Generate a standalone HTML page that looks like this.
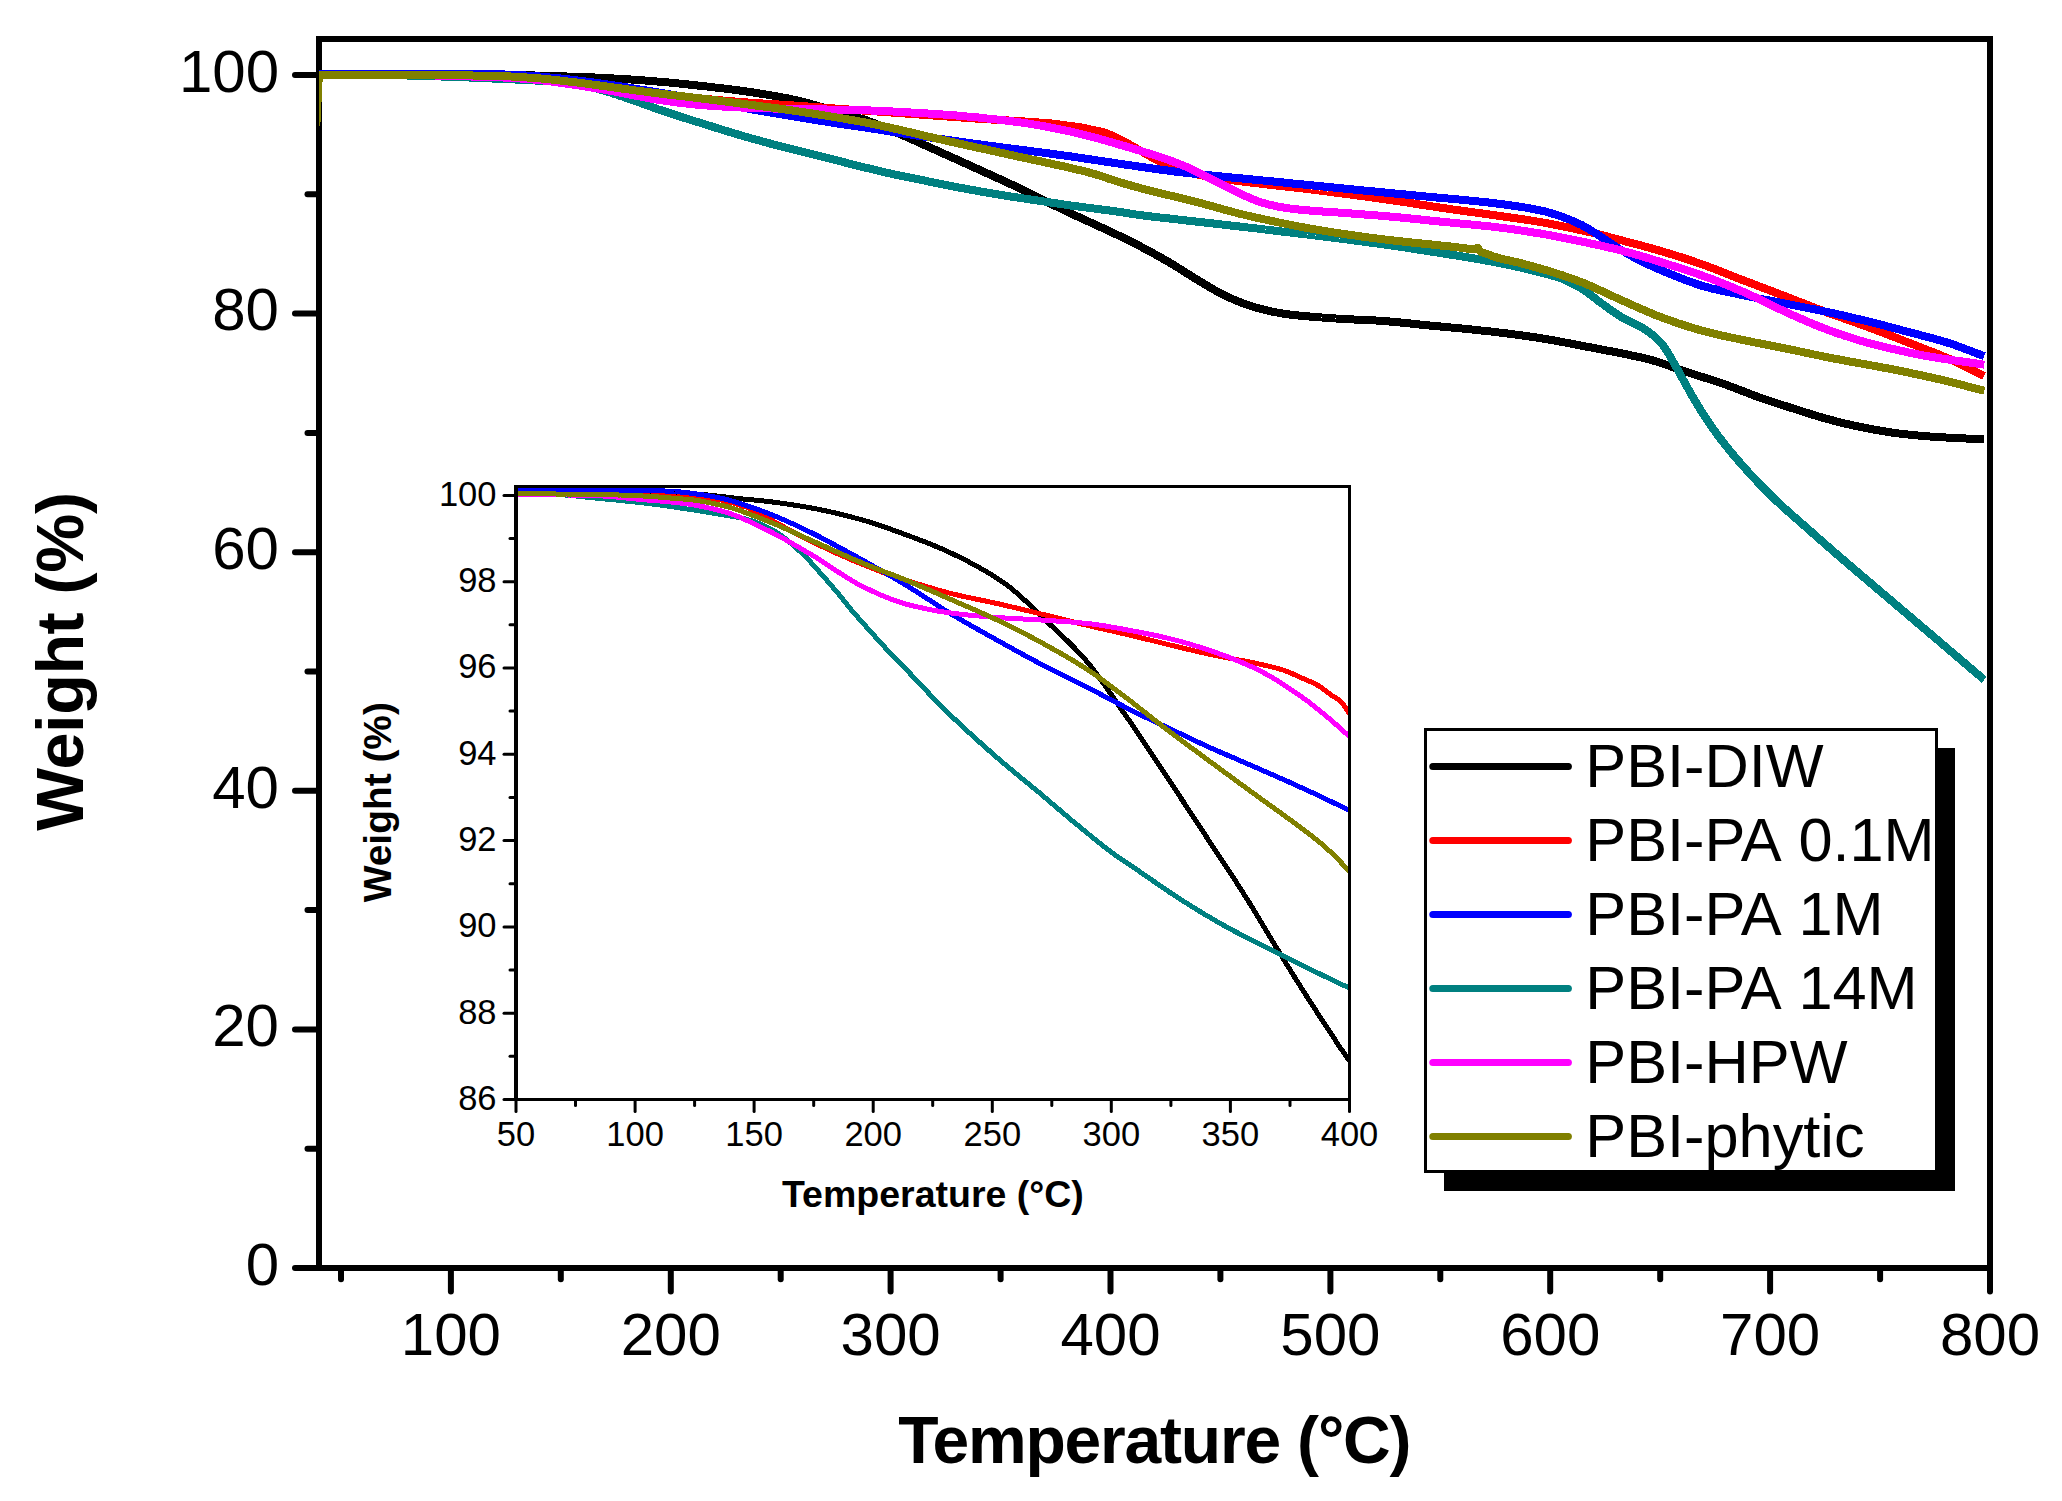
<!DOCTYPE html>
<html lang="en"><head><meta charset="utf-8"><title>TGA curves</title>
<style>html,body{margin:0;padding:0;background:#fff}body{width:2062px;height:1501px;overflow:hidden}</style></head>
<body>
<svg width="2062" height="1501" viewBox="0 0 2062 1501" style="display:block" font-family="'Liberation Sans', sans-serif">
<rect width="2062" height="1501" fill="#fff"/>
<defs><clipPath id="ci"><rect x="516" y="486" width="834" height="614"/></clipPath><clipPath id="cm"><rect x="319" y="36" width="1674" height="1235"/></clipPath></defs>
<g stroke="#000" stroke-width="6" fill="none" shape-rendering="crispEdges">
<rect x="319.0" y="39.0" width="1671.0" height="1229.0"/>
</g>
<g stroke="#000" stroke-width="6" stroke-linecap="round" fill="none">
<line x1="318.0" y1="1268.0" x2="295" y2="1268.0"/>
<line x1="318.0" y1="1148.7" x2="307.5" y2="1148.7"/>
<line x1="318.0" y1="1029.4" x2="295" y2="1029.4"/>
<line x1="318.0" y1="910.1" x2="307.5" y2="910.1"/>
<line x1="318.0" y1="790.8" x2="295" y2="790.8"/>
<line x1="318.0" y1="671.5" x2="307.5" y2="671.5"/>
<line x1="318.0" y1="552.2" x2="295" y2="552.2"/>
<line x1="318.0" y1="432.9" x2="307.5" y2="432.9"/>
<line x1="318.0" y1="313.6" x2="295" y2="313.6"/>
<line x1="318.0" y1="194.3" x2="307.5" y2="194.3"/>
<line x1="318.0" y1="75.0" x2="295" y2="75.0"/>
<line x1="341.0" y1="1269.0" x2="341.0" y2="1279.3"/>
<line x1="450.9" y1="1269.0" x2="450.9" y2="1291.5"/>
<line x1="560.8" y1="1269.0" x2="560.8" y2="1279.3"/>
<line x1="670.8" y1="1269.0" x2="670.8" y2="1291.5"/>
<line x1="780.7" y1="1269.0" x2="780.7" y2="1279.3"/>
<line x1="890.6" y1="1269.0" x2="890.6" y2="1291.5"/>
<line x1="1000.6" y1="1269.0" x2="1000.6" y2="1279.3"/>
<line x1="1110.5" y1="1269.0" x2="1110.5" y2="1291.5"/>
<line x1="1220.4" y1="1269.0" x2="1220.4" y2="1279.3"/>
<line x1="1330.4" y1="1269.0" x2="1330.4" y2="1291.5"/>
<line x1="1440.3" y1="1269.0" x2="1440.3" y2="1279.3"/>
<line x1="1550.2" y1="1269.0" x2="1550.2" y2="1291.5"/>
<line x1="1660.2" y1="1269.0" x2="1660.2" y2="1279.3"/>
<line x1="1770.1" y1="1269.0" x2="1770.1" y2="1291.5"/>
<line x1="1880.1" y1="1269.0" x2="1880.1" y2="1279.3"/>
<line x1="1990.0" y1="1269.0" x2="1990.0" y2="1291.5"/>
</g>
<g font-size="60" fill="#000">
<text x="279" y="1284.8" text-anchor="end">0</text>
<text x="279" y="1046.2" text-anchor="end">20</text>
<text x="279" y="807.6" text-anchor="end">40</text>
<text x="279" y="569.0" text-anchor="end">60</text>
<text x="279" y="330.4" text-anchor="end">80</text>
<text x="279" y="91.8" text-anchor="end">100</text>
<text x="450.9" y="1355.3" text-anchor="middle">100</text>
<text x="670.8" y="1355.3" text-anchor="middle">200</text>
<text x="890.6" y="1355.3" text-anchor="middle">300</text>
<text x="1110.5" y="1355.3" text-anchor="middle">400</text>
<text x="1330.4" y="1355.3" text-anchor="middle">500</text>
<text x="1550.2" y="1355.3" text-anchor="middle">600</text>
<text x="1770.1" y="1355.3" text-anchor="middle">700</text>
<text x="1990.0" y="1355.3" text-anchor="middle">800</text>
</g>
<text x="1154.3" y="1462.8" text-anchor="middle" font-size="66" font-weight="bold" letter-spacing="-1.2">Temperature (°C)</text>
<text transform="translate(82.8,661.5) rotate(-90)" text-anchor="middle" font-size="66.5" font-weight="bold" letter-spacing="-0.4">Weight (%)</text>
<g fill="none" stroke-width="8" stroke-linejoin="round" stroke-linecap="butt" clip-path="url(#cm)" shape-rendering="crispEdges">
<path d="M316.5,74.8 L318.5,74.7 L320.5,74.6 L322.5,74.5 L324.5,74.4 L326.5,74.3 L328.5,74.3 L330.5,74.2 L332.5,74.1 L334.5,74.0 L336.5,74.0 L338.5,73.9 L340.5,73.9 L341.2,73.9 L342.5,73.9 L344.5,73.9 L346.5,73.9 L348.5,73.9 L350.5,73.9 L352.5,73.9 L354.5,73.9 L356.5,73.9 L358.5,73.9 L360.5,73.8 L362.5,73.8 L364.5,73.8 L366.6,73.8 L368.6,73.8 L370.6,73.8 L372.6,73.8 L374.6,73.8 L376.6,73.8 L378.6,73.8 L380.6,73.8 L382.6,73.8 L384.6,73.8 L386.6,73.8 L388.6,73.8 L390.6,73.8 L392.6,73.8 L394.6,73.8 L396.6,73.8 L398.6,73.8 L400.6,73.8 L402.6,73.8 L404.6,73.8 L406.5,73.8 L406.6,73.8 L408.6,73.8 L410.6,73.8 L412.6,73.8 L414.6,73.8 L416.6,73.8 L418.6,73.8 L420.6,73.8 L422.6,73.8 L424.6,73.8 L426.6,73.8 L428.6,73.8 L430.6,73.8 L432.6,73.8 L434.6,73.8 L436.6,73.8 L438.6,73.8 L440.6,73.8 L442.6,73.9 L444.6,73.9 L446.6,73.9 L448.6,73.9 L450.6,73.9 L452.6,73.9 L454.6,73.9 L456.6,73.9 L458.6,73.9 L460.5,73.9 L460.6,73.9 L462.6,73.9 L464.7,73.9 L466.7,74.0 L468.7,74.0 L470.7,74.0 L472.7,74.0 L474.7,74.0 L476.7,74.1 L478.7,74.1 L480.7,74.1 L482.7,74.2 L484.7,74.2 L486.7,74.2 L488.7,74.3 L490.7,74.3 L492.7,74.3 L494.7,74.4 L496.7,74.4 L498.7,74.5 L500.7,74.5 L502.7,74.5 L504.7,74.6 L506.7,74.6 L508.7,74.7 L510.7,74.7 L512.7,74.8 L514.3,74.8 L514.7,74.8 L516.7,74.9 L518.7,74.9 L520.7,75.0 L522.7,75.0 L524.7,75.1 L526.7,75.2 L528.7,75.2 L530.7,75.3 L532.7,75.4 L534.7,75.5 L536.7,75.5 L538.7,75.6 L540.7,75.7 L542.7,75.7 L544.7,75.8 L546.7,75.9 L548.7,75.9 L548.8,75.9 L550.7,76.0 L552.7,76.1 L554.7,76.1 L556.7,76.2 L558.7,76.2 L560.7,76.3 L562.8,76.3 L564.8,76.4 L566.8,76.5 L568.8,76.5 L570.8,76.6 L572.8,76.7 L573.0,76.7 L574.8,76.7 L576.8,76.8 L578.8,76.9 L580.8,76.9 L582.8,77.0 L584.8,77.1 L586.8,77.2 L588.8,77.3 L590.8,77.4 L592.8,77.4 L594.8,77.5 L596.8,77.6 L598.8,77.7 L600.8,77.8 L602.8,77.9 L604.8,78.0 L606.8,78.1 L608.8,78.2 L610.8,78.3 L612.8,78.4 L613.2,78.5 L614.8,78.5 L616.8,78.7 L618.8,78.8 L620.8,78.9 L622.8,79.0 L624.8,79.1 L626.8,79.3 L628.8,79.4 L630.8,79.5 L632.8,79.7 L634.8,79.8 L636.8,79.9 L638.8,80.1 L640.8,80.2 L642.8,80.4 L644.8,80.5 L646.8,80.7 L648.8,80.8 L650.8,81.0 L652.8,81.1 L654.8,81.3 L656.8,81.5 L658.6,81.6 L658.8,81.6 L660.9,81.8 L662.9,82.0 L664.9,82.2 L666.9,82.3 L668.9,82.5 L670.9,82.7 L672.9,82.9 L674.9,83.1 L676.9,83.3 L678.9,83.5 L680.9,83.7 L682.9,83.9 L684.9,84.1 L686.9,84.3 L688.9,84.6 L690.9,84.8 L692.9,85.0 L694.9,85.2 L696.9,85.4 L698.9,85.7 L700.9,85.9 L702.2,86.0 L702.9,86.1 L704.9,86.3 L706.9,86.5 L708.9,86.8 L710.9,87.0 L712.9,87.2 L714.9,87.5 L716.9,87.7 L718.9,87.9 L720.9,88.2 L722.9,88.4 L724.9,88.6 L726.9,88.9 L728.9,89.1 L730.9,89.4 L732.9,89.6 L734.9,89.9 L736.9,90.2 L738.9,90.4 L740.9,90.7 L742.5,90.9 L742.9,91.0 L744.9,91.3 L746.9,91.6 L748.9,91.8 L750.9,92.1 L752.9,92.4 L754.9,92.7 L756.9,93.1 L759.0,93.4 L761.0,93.7 L763.0,94.0 L765.0,94.3 L767.0,94.7 L769.0,95.0 L771.0,95.3 L773.0,95.7 L775.0,96.0 L777.0,96.4 L779.0,96.8 L781.0,97.1 L783.0,97.5 L785.0,97.9 L787.0,98.3 L787.8,98.4 L789.0,98.7 L791.0,99.1 L793.0,99.5 L795.0,100.0 L797.0,100.4 L799.0,100.9 L799.9,101.2 L801.0,101.4 L803.0,101.9 L805.0,102.4 L807.0,103.0 L809.0,103.5 L811.0,104.1 L813.0,104.6 L815.0,105.2 L817.0,105.8 L819.0,106.4 L821.0,107.0 L823.0,107.5 L825.0,108.1 L827.0,108.7 L828.1,109.0 L829.0,109.3 L831.0,109.8 L833.0,110.4 L835.0,111.0 L837.0,111.5 L839.0,112.1 L841.0,112.7 L843.0,113.2 L845.0,113.8 L847.0,114.4 L849.0,114.9 L851.0,115.5 L853.0,116.1 L855.0,116.7 L857.1,117.3 L859.1,118.0 L861.1,118.6 L863.1,119.2 L865.1,119.9 L867.1,120.6 L868.4,121.1 L869.1,121.3 L871.1,122.0 L873.1,122.8 L875.1,123.6 L877.1,124.4 L879.1,125.2 L881.1,126.0 L883.1,126.9 L885.1,127.7 L887.1,128.6 L888.6,129.2 L889.1,129.4 L891.1,130.3 L893.1,131.2 L895.1,132.1 L897.1,133.0 L898.6,133.6 L899.1,133.8 L901.1,134.7 L903.1,135.5 L905.1,136.4 L907.1,137.2 L907.1,137.2 L909.1,138.1 L911.1,139.0 L913.1,139.9 L915.1,140.8 L917.1,141.6 L919.1,142.5 L921.1,143.4 L923.1,144.4 L925.1,145.3 L927.1,146.2 L929.1,147.1 L930.0,147.5 L931.1,148.0 L933.1,148.9 L935.1,149.8 L937.1,150.7 L939.1,151.6 L941.1,152.5 L943.1,153.4 L945.1,154.3 L947.1,155.2 L949.1,156.1 L951.1,157.0 L953.1,157.9 L955.2,158.8 L957.2,159.7 L959.2,160.6 L961.2,161.5 L963.2,162.5 L965.2,163.4 L967.2,164.3 L968.8,165.0 L969.2,165.2 L971.2,166.1 L973.2,167.0 L975.2,167.9 L977.2,168.8 L979.2,169.7 L981.2,170.6 L983.2,171.5 L985.2,172.4 L987.2,173.4 L989.2,174.3 L991.2,175.2 L993.2,176.1 L995.2,177.0 L997.2,177.9 L999.2,178.8 L1001.2,179.7 L1003.2,180.7 L1005.2,181.6 L1007.2,182.5 L1009.2,183.5 L1011.2,184.4 L1013.2,185.3 L1015.2,186.3 L1016.4,186.9 L1017.2,187.2 L1019.2,188.2 L1021.2,189.2 L1023.2,190.2 L1025.2,191.1 L1027.2,192.1 L1029.2,193.1 L1031.2,194.1 L1033.2,195.1 L1035.2,196.1 L1037.2,197.1 L1039.2,198.1 L1041.2,199.1 L1043.2,200.1 L1045.2,201.1 L1046.9,201.9 L1047.2,202.1 L1049.2,203.0 L1051.2,204.0 L1053.3,205.0 L1055.3,206.0 L1057.3,206.9 L1059.3,207.9 L1061.3,208.8 L1063.3,209.8 L1065.3,210.8 L1067.3,211.7 L1069.3,212.7 L1070.3,213.1 L1071.3,213.6 L1073.3,214.5 L1075.3,215.5 L1077.3,216.4 L1079.3,217.3 L1081.3,218.3 L1083.3,219.2 L1085.3,220.1 L1087.3,221.0 L1089.3,221.9 L1091.3,222.8 L1093.3,223.8 L1095.3,224.7 L1097.3,225.6 L1099.3,226.5 L1101.3,227.4 L1103.3,228.3 L1105.3,229.3 L1107.3,230.2 L1109.3,231.1 L1111.3,232.1 L1113.3,233.0 L1115.3,234.0 L1117.3,234.9 L1119.3,235.9 L1120.0,236.2 L1121.3,236.8 L1123.3,237.8 L1125.3,238.8 L1127.3,239.8 L1129.3,240.8 L1131.3,241.8 L1133.3,242.8 L1135.3,243.8 L1137.3,244.8 L1139.3,245.9 L1140.0,246.2 L1141.3,246.9 L1143.3,248.0 L1145.3,249.0 L1147.3,250.1 L1149.3,251.2 L1151.4,252.3 L1153.4,253.4 L1155.4,254.5 L1157.4,255.6 L1159.4,256.7 L1161.4,257.8 L1163.4,259.0 L1165.4,260.1 L1167.4,261.3 L1169.1,262.3 L1169.4,262.5 L1171.4,263.6 L1173.4,264.9 L1175.4,266.1 L1177.4,267.3 L1179.4,268.6 L1181.4,269.9 L1183.4,271.1 L1185.4,272.4 L1187.4,273.7 L1189.4,274.9 L1191.4,276.2 L1193.4,277.4 L1195.4,278.7 L1197.4,279.9 L1198.3,280.4 L1199.4,281.0 L1201.4,282.2 L1203.4,283.4 L1205.4,284.6 L1207.4,285.8 L1209.4,287.0 L1211.4,288.2 L1213.4,289.4 L1215.4,290.5 L1217.4,291.6 L1219.4,292.7 L1221.4,293.8 L1223.4,294.8 L1225.4,295.8 L1227.4,296.7 L1227.4,296.7 L1229.4,297.6 L1231.4,298.5 L1233.4,299.4 L1235.4,300.2 L1237.4,301.1 L1239.4,301.9 L1241.4,302.7 L1243.4,303.5 L1245.4,304.2 L1247.4,304.9 L1249.5,305.6 L1251.5,306.3 L1253.5,306.9 L1255.5,307.5 L1256.6,307.8 L1257.5,308.0 L1259.5,308.6 L1261.5,309.1 L1263.5,309.6 L1265.5,310.1 L1267.5,310.6 L1269.5,311.0 L1271.5,311.4 L1273.5,311.9 L1275.5,312.3 L1277.5,312.6 L1279.5,313.0 L1281.5,313.3 L1283.3,313.6 L1283.5,313.6 L1285.5,313.9 L1287.5,314.2 L1289.5,314.5 L1291.5,314.7 L1293.5,314.9 L1295.5,315.2 L1297.5,315.4 L1299.5,315.6 L1301.5,315.8 L1303.5,316.0 L1303.7,316.0 L1305.5,316.2 L1307.5,316.3 L1309.5,316.5 L1311.5,316.7 L1313.5,316.9 L1315.5,317.0 L1317.5,317.2 L1319.5,317.3 L1321.5,317.5 L1323.5,317.6 L1325.5,317.8 L1327.5,317.9 L1329.5,318.1 L1331.5,318.2 L1333.5,318.3 L1335.5,318.5 L1337.5,318.6 L1339.5,318.7 L1341.5,318.8 L1343.5,318.9 L1344.4,319.0 L1345.5,319.1 L1347.6,319.2 L1349.6,319.3 L1351.6,319.4 L1353.6,319.5 L1355.6,319.6 L1357.6,319.7 L1359.6,319.8 L1361.6,319.8 L1363.6,319.9 L1365.6,320.0 L1367.6,320.1 L1369.6,320.2 L1371.6,320.3 L1373.6,320.4 L1375.6,320.5 L1377.6,320.6 L1379.6,320.8 L1380.0,320.8 L1381.6,320.9 L1383.6,321.0 L1385.6,321.2 L1387.6,321.4 L1389.6,321.5 L1391.6,321.7 L1393.6,321.9 L1395.6,322.1 L1397.6,322.2 L1399.6,322.4 L1401.6,322.6 L1403.6,322.8 L1405.6,323.0 L1407.6,323.2 L1409.6,323.4 L1411.6,323.7 L1413.6,323.9 L1415.6,324.1 L1417.6,324.3 L1419.6,324.5 L1421.6,324.7 L1423.6,324.9 L1425.6,325.1 L1425.9,325.1 L1427.6,325.3 L1429.6,325.5 L1431.6,325.7 L1433.6,325.8 L1435.6,326.0 L1437.6,326.2 L1439.6,326.4 L1441.6,326.6 L1443.6,326.8 L1445.7,327.0 L1447.7,327.2 L1449.7,327.4 L1451.7,327.6 L1453.7,327.8 L1455.7,327.9 L1457.7,328.1 L1459.7,328.3 L1461.7,328.5 L1463.7,328.7 L1465.7,328.9 L1467.7,329.1 L1469.7,329.3 L1471.7,329.5 L1473.7,329.7 L1475.7,329.9 L1477.7,330.1 L1479.7,330.3 L1481.7,330.6 L1483.7,330.8 L1485.7,331.0 L1487.7,331.2 L1489.7,331.4 L1491.7,331.6 L1493.7,331.9 L1495.7,332.1 L1497.7,332.3 L1499.7,332.6 L1500.0,332.6 L1501.7,332.8 L1503.7,333.0 L1505.7,333.3 L1507.7,333.5 L1509.7,333.8 L1511.7,334.1 L1513.7,334.3 L1515.7,334.6 L1517.7,334.8 L1519.7,335.1 L1521.7,335.4 L1523.7,335.7 L1525.7,336.0 L1527.7,336.2 L1529.7,336.5 L1531.7,336.8 L1533.7,337.1 L1535.7,337.4 L1537.7,337.7 L1539.7,338.1 L1540.7,338.2 L1541.7,338.4 L1543.8,338.7 L1545.8,339.0 L1547.8,339.4 L1549.8,339.7 L1551.8,340.0 L1553.8,340.4 L1555.8,340.8 L1557.8,341.1 L1559.8,341.5 L1561.8,341.9 L1563.8,342.3 L1565.8,342.6 L1567.8,343.0 L1569.8,343.4 L1571.8,343.8 L1573.8,344.2 L1575.8,344.6 L1577.8,345.0 L1579.8,345.3 L1581.8,345.7 L1583.8,346.1 L1585.8,346.5 L1587.8,346.9 L1589.8,347.3 L1590.0,347.3 L1591.8,347.6 L1593.8,348.0 L1595.8,348.4 L1597.8,348.8 L1599.8,349.1 L1601.8,349.5 L1603.8,349.9 L1605.8,350.3 L1607.8,350.7 L1609.8,351.0 L1611.8,351.4 L1613.8,351.8 L1615.8,352.2 L1617.8,352.6 L1619.8,353.0 L1621.8,353.4 L1622.2,353.5 L1623.8,353.8 L1625.8,354.2 L1627.8,354.6 L1629.8,355.1 L1631.8,355.5 L1633.8,355.9 L1635.8,356.3 L1637.8,356.7 L1639.8,357.2 L1641.9,357.6 L1643.9,358.1 L1645.9,358.6 L1647.9,359.1 L1648.3,359.2 L1649.9,359.6 L1651.9,360.2 L1653.9,360.8 L1655.9,361.4 L1657.9,362.0 L1659.9,362.6 L1661.9,363.3 L1663.9,364.0 L1665.9,364.7 L1667.9,365.4 L1669.9,366.1 L1671.9,366.8 L1673.9,367.5 L1675.9,368.2 L1677.9,368.9 L1679.9,369.6 L1681.9,370.3 L1683.9,371.0 L1685.9,371.7 L1687.9,372.4 L1689.9,373.1 L1690.0,373.1 L1691.9,373.7 L1693.9,374.4 L1695.9,375.0 L1697.9,375.6 L1699.9,376.2 L1701.9,376.9 L1703.9,377.5 L1705.9,378.1 L1707.9,378.7 L1709.9,379.4 L1711.9,380.0 L1713.9,380.6 L1715.9,381.3 L1717.9,381.9 L1719.9,382.6 L1721.9,383.3 L1723.9,384.0 L1724.0,384.0 L1725.9,384.7 L1727.9,385.4 L1729.9,386.2 L1731.9,386.9 L1733.9,387.7 L1735.9,388.4 L1737.9,389.2 L1740.0,390.0 L1742.0,390.8 L1744.0,391.5 L1744.4,391.7 L1746.0,392.3 L1748.0,393.1 L1750.0,393.9 L1752.0,394.6 L1754.0,395.4 L1756.0,396.2 L1758.0,396.9 L1758.0,396.9 L1760.0,397.6 L1762.0,398.3 L1764.0,399.0 L1766.0,399.7 L1768.0,400.4 L1770.0,401.0 L1772.0,401.7 L1774.0,402.3 L1776.0,403.0 L1778.0,403.6 L1780.0,404.3 L1782.0,404.9 L1784.0,405.6 L1786.0,406.2 L1788.0,406.8 L1790.0,407.5 L1792.0,408.1 L1792.0,408.1 L1794.0,408.7 L1796.0,409.4 L1798.0,410.0 L1800.0,410.7 L1802.0,411.3 L1804.0,411.9 L1806.0,412.6 L1808.0,413.2 L1810.0,413.8 L1812.0,414.5 L1814.0,415.1 L1816.0,415.7 L1818.0,416.3 L1820.0,416.9 L1822.0,417.5 L1824.0,418.1 L1826.0,418.6 L1828.0,419.2 L1830.0,419.7 L1830.0,419.7 L1832.0,420.2 L1834.0,420.8 L1836.0,421.3 L1838.1,421.8 L1840.1,422.3 L1842.1,422.8 L1844.1,423.3 L1846.1,423.8 L1848.1,424.2 L1850.1,424.7 L1852.1,425.1 L1854.1,425.6 L1856.1,426.0 L1858.1,426.5 L1860.1,426.9 L1862.1,427.3 L1863.7,427.6 L1864.1,427.7 L1866.1,428.1 L1868.1,428.4 L1870.1,428.8 L1872.1,429.2 L1874.1,429.6 L1876.1,429.9 L1878.1,430.3 L1880.1,430.7 L1882.1,431.0 L1884.1,431.3 L1886.1,431.7 L1888.1,432.0 L1890.1,432.3 L1892.1,432.6 L1894.1,432.8 L1896.1,433.1 L1897.7,433.3 L1898.1,433.4 L1900.1,433.6 L1902.1,433.8 L1904.1,434.1 L1906.1,434.3 L1908.1,434.5 L1910.1,434.7 L1912.1,434.9 L1914.1,435.1 L1916.1,435.3 L1918.1,435.5 L1920.1,435.7 L1922.1,435.9 L1924.1,436.0 L1926.1,436.2 L1928.1,436.3 L1930.1,436.5 L1931.6,436.6 L1932.1,436.6 L1934.1,436.8 L1936.2,436.9 L1938.2,437.0 L1940.2,437.1 L1942.2,437.3 L1944.2,437.4 L1946.2,437.5 L1948.2,437.6 L1950.2,437.7 L1952.2,437.8 L1954.2,437.9 L1956.2,438.0 L1958.2,438.1 L1960.2,438.2 L1962.2,438.3 L1964.2,438.4 L1966.2,438.5 L1968.2,438.6 L1970.2,438.7 L1972.2,438.8 L1974.2,438.9 L1976.2,439.0 L1978.2,439.1 L1980.2,439.2 L1981.0,439.2 L1982.2,439.3 L1984.2,439.4" stroke="#000000"/>
<path d="M316.5,74.8 L318.5,74.8 L320.5,74.7 L322.5,74.6 L324.5,74.6 L326.5,74.5 L328.5,74.5 L330.5,74.5 L332.5,74.4 L334.5,74.4 L336.5,74.4 L338.5,74.3 L340.5,74.3 L341.2,74.3 L342.5,74.3 L344.5,74.3 L346.5,74.3 L348.5,74.3 L350.5,74.3 L352.5,74.3 L354.5,74.3 L356.5,74.3 L358.5,74.3 L360.5,74.3 L362.5,74.3 L364.5,74.3 L366.6,74.3 L368.6,74.3 L370.6,74.3 L372.6,74.3 L374.6,74.3 L376.6,74.3 L378.6,74.3 L380.6,74.3 L382.6,74.3 L384.6,74.3 L386.6,74.3 L388.6,74.3 L390.6,74.3 L392.6,74.3 L394.6,74.3 L396.6,74.3 L398.6,74.3 L400.6,74.3 L402.6,74.3 L404.6,74.3 L406.5,74.3 L406.6,74.3 L408.6,74.3 L410.6,74.3 L412.6,74.3 L414.6,74.3 L416.6,74.3 L418.6,74.3 L420.6,74.3 L422.6,74.4 L424.6,74.4 L426.6,74.4 L428.6,74.4 L430.6,74.4 L432.6,74.4 L434.6,74.4 L436.6,74.4 L438.6,74.4 L440.6,74.4 L442.6,74.4 L444.6,74.4 L446.6,74.4 L448.6,74.4 L450.6,74.4 L452.6,74.4 L454.6,74.4 L456.6,74.5 L458.6,74.5 L460.5,74.5 L460.6,74.5 L462.6,74.5 L464.7,74.5 L466.7,74.5 L468.7,74.5 L470.7,74.5 L472.7,74.6 L474.7,74.6 L476.7,74.6 L478.7,74.6 L480.7,74.6 L482.7,74.7 L484.7,74.7 L486.7,74.7 L488.7,74.7 L490.7,74.8 L492.7,74.8 L494.7,74.8 L496.7,74.9 L498.7,74.9 L500.7,74.9 L501.6,74.9 L502.7,75.0 L504.7,75.0 L506.7,75.1 L508.7,75.2 L510.7,75.2 L512.7,75.3 L514.3,75.4 L514.7,75.4 L516.7,75.5 L518.7,75.6 L520.7,75.7 L522.7,75.8 L524.7,75.9 L526.7,76.0 L528.7,76.2 L530.7,76.3 L532.7,76.4 L534.7,76.6 L536.7,76.7 L538.7,76.9 L540.7,77.1 L542.7,77.2 L544.7,77.4 L546.7,77.6 L548.7,77.8 L550.7,78.0 L552.7,78.2 L554.5,78.3 L554.7,78.4 L556.7,78.6 L558.7,78.9 L560.7,79.2 L562.8,79.5 L564.8,79.8 L566.8,80.2 L568.8,80.5 L570.8,80.9 L572.8,81.2 L573.0,81.2 L574.8,81.5 L576.8,81.9 L578.8,82.2 L580.8,82.5 L582.8,82.8 L584.8,83.2 L586.8,83.5 L588.8,83.8 L590.8,84.1 L592.8,84.5 L594.8,84.8 L596.8,85.1 L598.8,85.4 L600.8,85.8 L602.8,86.1 L604.8,86.4 L606.8,86.7 L608.8,87.0 L610.8,87.3 L612.8,87.6 L613.2,87.7 L614.8,87.9 L616.8,88.2 L618.8,88.5 L620.8,88.8 L622.8,89.0 L624.8,89.3 L626.8,89.6 L628.8,89.9 L630.8,90.2 L632.8,90.4 L634.8,90.7 L636.8,91.0 L638.8,91.2 L640.8,91.5 L642.8,91.8 L644.8,92.0 L646.8,92.3 L648.8,92.6 L650.8,92.8 L652.8,93.1 L654.8,93.3 L656.8,93.6 L658.8,93.8 L660.9,94.1 L661.9,94.2 L662.9,94.3 L664.9,94.5 L666.9,94.8 L668.9,95.0 L670.9,95.3 L672.9,95.5 L674.9,95.7 L676.9,95.9 L678.9,96.2 L680.9,96.4 L682.9,96.6 L684.9,96.8 L686.9,97.0 L688.9,97.3 L690.9,97.5 L692.9,97.7 L694.9,97.9 L695.5,97.9 L696.9,98.1 L698.9,98.3 L700.9,98.5 L702.9,98.7 L704.9,98.9 L706.9,99.0 L708.9,99.2 L710.9,99.4 L712.9,99.6 L714.9,99.8 L716.9,100.0 L718.3,100.1 L718.9,100.1 L720.9,100.3 L722.9,100.5 L724.9,100.7 L726.9,100.8 L728.9,101.0 L730.9,101.2 L732.9,101.4 L734.9,101.5 L736.9,101.7 L738.9,101.8 L740.9,102.0 L742.5,102.1 L742.9,102.2 L744.9,102.3 L746.9,102.4 L748.9,102.6 L750.9,102.7 L752.9,102.9 L754.9,103.0 L756.9,103.1 L759.0,103.2 L761.0,103.4 L763.0,103.5 L765.0,103.6 L767.0,103.7 L769.0,103.9 L771.0,104.0 L773.0,104.1 L775.0,104.2 L777.0,104.4 L779.0,104.5 L781.0,104.6 L783.0,104.8 L785.0,104.9 L787.0,105.0 L787.8,105.1 L789.0,105.2 L791.0,105.3 L793.0,105.4 L795.0,105.6 L797.0,105.7 L799.0,105.9 L801.0,106.0 L803.0,106.1 L805.0,106.3 L807.0,106.4 L809.0,106.6 L811.0,106.7 L813.0,106.9 L815.0,107.0 L817.0,107.2 L819.0,107.3 L821.0,107.4 L823.0,107.6 L825.0,107.7 L827.0,107.9 L828.1,108.0 L829.0,108.0 L831.0,108.2 L833.0,108.3 L835.0,108.5 L837.0,108.6 L839.0,108.8 L841.0,108.9 L843.0,109.1 L845.0,109.2 L847.0,109.4 L849.0,109.5 L851.0,109.7 L853.0,109.8 L855.0,110.0 L857.1,110.1 L859.1,110.3 L861.1,110.4 L863.1,110.6 L865.1,110.7 L867.1,110.8 L868.4,110.9 L869.1,111.0 L871.1,111.1 L873.1,111.3 L875.1,111.4 L877.1,111.5 L879.1,111.7 L881.1,111.8 L883.1,112.0 L885.1,112.1 L887.1,112.2 L889.1,112.4 L891.1,112.5 L893.1,112.6 L895.1,112.8 L897.1,112.9 L899.1,113.0 L901.1,113.2 L903.1,113.3 L905.1,113.5 L907.1,113.6 L908.7,113.7 L909.1,113.7 L911.1,113.9 L913.1,114.0 L915.1,114.2 L917.1,114.3 L919.1,114.5 L921.1,114.6 L923.1,114.8 L925.1,114.9 L927.1,115.1 L929.1,115.2 L931.1,115.4 L933.1,115.5 L935.1,115.7 L937.1,115.8 L939.1,116.0 L941.1,116.1 L943.1,116.2 L944.8,116.4 L945.1,116.4 L947.1,116.5 L949.1,116.7 L951.1,116.8 L953.1,117.0 L955.2,117.1 L957.2,117.2 L959.2,117.4 L961.2,117.5 L963.2,117.7 L965.2,117.8 L967.2,118.0 L969.2,118.1 L971.2,118.2 L973.2,118.4 L975.2,118.5 L977.2,118.6 L979.2,118.8 L981.2,118.9 L983.2,119.0 L985.0,119.2 L985.2,119.2 L987.2,119.3 L989.2,119.4 L991.2,119.5 L993.2,119.6 L995.2,119.8 L997.2,119.9 L999.2,120.0 L1001.2,120.1 L1003.2,120.2 L1005.2,120.3 L1007.2,120.4 L1009.2,120.5 L1011.2,120.6 L1013.2,120.8 L1015.2,120.9 L1017.2,121.0 L1019.2,121.1 L1021.2,121.2 L1023.2,121.4 L1025.2,121.5 L1025.4,121.5 L1027.2,121.6 L1029.2,121.8 L1031.2,121.9 L1033.2,122.0 L1035.2,122.2 L1037.2,122.3 L1039.2,122.5 L1041.2,122.6 L1043.2,122.8 L1045.2,122.9 L1047.2,123.1 L1049.2,123.3 L1049.6,123.3 L1051.2,123.5 L1053.3,123.7 L1055.3,124.0 L1057.3,124.2 L1059.3,124.5 L1061.3,124.8 L1063.3,125.1 L1065.3,125.3 L1065.6,125.4 L1067.3,125.6 L1069.3,125.8 L1071.3,126.1 L1073.3,126.4 L1075.3,126.6 L1077.3,126.9 L1079.3,127.2 L1081.3,127.5 L1081.8,127.6 L1083.3,127.9 L1085.3,128.3 L1087.3,128.7 L1089.3,129.2 L1091.3,129.7 L1093.3,130.1 L1093.9,130.2 L1095.3,130.5 L1097.3,130.9 L1099.3,131.3 L1101.3,131.7 L1101.9,131.9 L1103.3,132.3 L1105.3,132.9 L1107.3,133.6 L1109.3,134.4 L1111.3,135.3 L1113.3,136.2 L1115.3,137.2 L1117.3,138.1 L1119.3,139.1 L1120.0,139.4 L1121.3,140.0 L1123.3,141.1 L1125.3,142.1 L1127.3,143.2 L1129.3,144.4 L1131.3,145.5 L1133.3,146.7 L1135.3,147.8 L1137.3,149.0 L1139.3,150.1 L1140.7,150.9 L1141.3,151.3 L1143.3,152.4 L1145.3,153.6 L1147.3,154.7 L1149.3,155.9 L1151.4,157.1 L1153.4,158.2 L1155.4,159.3 L1157.4,160.4 L1159.4,161.3 L1161.1,162.1 L1161.4,162.2 L1163.4,163.0 L1165.4,163.9 L1167.4,164.7 L1169.4,165.5 L1171.4,166.2 L1173.4,167.0 L1175.4,167.7 L1177.4,168.4 L1179.4,169.1 L1181.4,169.8 L1183.4,170.5 L1185.4,171.1 L1187.4,171.7 L1189.4,172.3 L1191.4,172.9 L1193.4,173.4 L1195.4,173.9 L1197.4,174.4 L1199.4,174.9 L1201.4,175.3 L1201.8,175.4 L1203.4,175.7 L1205.4,176.1 L1207.4,176.5 L1209.4,176.8 L1211.4,177.2 L1213.4,177.5 L1215.4,177.8 L1217.4,178.1 L1219.4,178.4 L1221.4,178.7 L1223.4,179.0 L1225.4,179.3 L1227.4,179.5 L1229.4,179.8 L1231.4,180.1 L1233.4,180.3 L1235.4,180.6 L1237.4,180.8 L1239.4,181.1 L1241.4,181.3 L1242.6,181.5 L1243.4,181.6 L1245.4,181.9 L1247.4,182.1 L1249.5,182.4 L1251.5,182.6 L1253.5,182.9 L1255.5,183.1 L1257.5,183.3 L1259.5,183.6 L1261.5,183.8 L1263.5,184.0 L1265.5,184.3 L1267.5,184.5 L1269.5,184.7 L1271.5,184.9 L1273.5,185.2 L1275.5,185.4 L1277.5,185.6 L1279.5,185.8 L1281.5,186.0 L1283.5,186.3 L1285.5,186.5 L1287.5,186.7 L1289.5,186.9 L1291.5,187.2 L1293.5,187.4 L1295.5,187.6 L1297.5,187.9 L1299.5,188.1 L1301.5,188.3 L1303.5,188.6 L1303.7,188.6 L1305.5,188.8 L1307.5,189.1 L1309.5,189.3 L1311.5,189.6 L1313.5,189.8 L1315.5,190.1 L1317.5,190.3 L1319.5,190.6 L1321.5,190.8 L1323.5,191.1 L1325.5,191.3 L1327.5,191.6 L1329.5,191.8 L1331.5,192.1 L1333.5,192.4 L1335.5,192.6 L1337.5,192.9 L1339.5,193.1 L1341.5,193.4 L1343.5,193.7 L1345.5,193.9 L1347.6,194.2 L1349.6,194.4 L1351.6,194.7 L1353.6,195.0 L1355.6,195.2 L1357.6,195.5 L1359.6,195.8 L1361.6,196.0 L1363.6,196.3 L1365.6,196.6 L1367.6,196.9 L1369.6,197.1 L1371.6,197.4 L1373.6,197.7 L1375.6,198.0 L1377.6,198.2 L1379.6,198.5 L1381.6,198.8 L1383.6,199.1 L1385.2,199.3 L1385.6,199.4 L1387.6,199.6 L1389.6,199.9 L1391.6,200.2 L1393.6,200.5 L1395.6,200.8 L1397.6,201.1 L1399.6,201.4 L1401.6,201.7 L1403.6,202.0 L1405.6,202.3 L1407.6,202.6 L1409.6,202.9 L1411.6,203.2 L1413.6,203.5 L1415.6,203.8 L1417.6,204.2 L1419.6,204.5 L1421.6,204.8 L1423.6,205.1 L1425.6,205.4 L1427.6,205.7 L1429.6,206.0 L1431.6,206.3 L1433.6,206.6 L1435.6,206.9 L1437.6,207.2 L1439.6,207.5 L1441.6,207.8 L1443.6,208.1 L1445.7,208.4 L1446.3,208.5 L1447.7,208.7 L1449.7,209.0 L1451.7,209.3 L1453.7,209.6 L1455.7,209.8 L1457.7,210.1 L1459.7,210.4 L1461.7,210.7 L1463.7,210.9 L1465.7,211.2 L1467.7,211.5 L1469.7,211.8 L1471.7,212.0 L1473.7,212.3 L1475.7,212.6 L1477.7,212.9 L1479.7,213.1 L1481.7,213.4 L1483.7,213.7 L1485.7,214.0 L1487.7,214.3 L1489.7,214.5 L1491.7,214.8 L1493.7,215.1 L1495.7,215.4 L1497.7,215.7 L1499.7,216.0 L1500.0,216.0 L1501.7,216.2 L1503.7,216.5 L1505.7,216.8 L1507.7,217.1 L1509.7,217.4 L1511.7,217.7 L1513.7,218.0 L1515.7,218.2 L1517.7,218.5 L1519.7,218.8 L1521.7,219.1 L1523.7,219.4 L1525.7,219.7 L1527.7,220.0 L1529.7,220.3 L1531.7,220.6 L1533.7,220.9 L1535.7,221.3 L1537.7,221.6 L1539.7,221.9 L1540.7,222.1 L1541.7,222.3 L1543.8,222.6 L1545.8,223.0 L1547.8,223.4 L1549.8,223.7 L1551.8,224.1 L1553.8,224.5 L1555.8,224.9 L1557.8,225.3 L1559.8,225.7 L1561.8,226.1 L1563.8,226.5 L1565.8,226.9 L1567.8,227.3 L1569.8,227.7 L1571.8,228.2 L1573.8,228.6 L1575.8,229.0 L1577.8,229.5 L1579.8,229.9 L1581.5,230.3 L1581.8,230.4 L1583.8,230.8 L1585.8,231.3 L1587.8,231.7 L1589.8,232.2 L1591.8,232.7 L1593.8,233.2 L1595.8,233.7 L1597.8,234.2 L1599.8,234.7 L1601.8,235.2 L1603.8,235.7 L1605.8,236.2 L1607.8,236.7 L1609.8,237.3 L1611.8,237.8 L1613.8,238.3 L1615.8,238.8 L1617.8,239.4 L1619.8,239.9 L1621.8,240.4 L1622.2,240.5 L1623.8,240.9 L1625.8,241.5 L1627.8,242.0 L1629.8,242.5 L1631.8,243.0 L1633.8,243.6 L1635.8,244.1 L1637.8,244.6 L1639.8,245.2 L1641.9,245.7 L1643.9,246.3 L1645.9,246.8 L1647.9,247.4 L1649.9,247.9 L1651.9,248.5 L1653.9,249.0 L1655.9,249.6 L1657.9,250.2 L1659.9,250.8 L1661.9,251.4 L1663.0,251.7 L1663.9,252.0 L1665.9,252.6 L1667.9,253.2 L1669.9,253.8 L1671.9,254.4 L1673.9,255.0 L1675.9,255.6 L1677.9,256.3 L1679.9,256.9 L1681.9,257.5 L1683.9,258.2 L1685.9,258.8 L1687.9,259.5 L1689.9,260.2 L1691.9,260.8 L1693.9,261.5 L1695.9,262.2 L1697.9,262.9 L1699.9,263.6 L1701.9,264.3 L1703.7,264.9 L1703.9,265.0 L1705.9,265.7 L1707.9,266.4 L1709.9,267.2 L1711.9,267.9 L1713.9,268.7 L1715.9,269.4 L1717.9,270.2 L1719.9,271.0 L1721.9,271.8 L1723.9,272.6 L1725.9,273.4 L1727.9,274.2 L1729.9,275.0 L1731.9,275.8 L1733.9,276.6 L1735.9,277.4 L1737.9,278.2 L1740.0,279.0 L1742.0,279.8 L1744.0,280.5 L1744.4,280.7 L1746.0,281.3 L1748.0,282.1 L1750.0,282.8 L1752.0,283.6 L1754.0,284.4 L1756.0,285.1 L1758.0,285.9 L1760.0,286.7 L1762.0,287.4 L1764.0,288.2 L1766.0,289.0 L1768.0,289.7 L1770.0,290.5 L1772.0,291.2 L1774.0,292.0 L1776.0,292.8 L1778.0,293.5 L1780.0,294.3 L1782.0,295.1 L1784.0,295.8 L1785.2,296.3 L1786.0,296.6 L1788.0,297.4 L1790.0,298.2 L1792.0,298.9 L1794.0,299.7 L1796.0,300.5 L1798.0,301.3 L1800.0,302.1 L1802.0,302.8 L1804.0,303.6 L1806.0,304.4 L1808.0,305.2 L1810.0,306.0 L1812.0,306.7 L1814.0,307.5 L1816.0,308.3 L1818.0,309.0 L1820.0,309.8 L1822.0,310.6 L1824.0,311.3 L1825.9,312.0 L1826.0,312.1 L1828.0,312.8 L1830.0,313.5 L1832.0,314.2 L1834.0,315.0 L1836.0,315.7 L1838.1,316.4 L1840.1,317.1 L1842.1,317.8 L1844.1,318.5 L1846.1,319.2 L1848.1,319.9 L1850.1,320.6 L1852.1,321.3 L1854.1,322.0 L1856.1,322.7 L1858.1,323.5 L1860.1,324.2 L1862.1,324.9 L1863.7,325.5 L1864.1,325.6 L1866.1,326.4 L1868.1,327.1 L1870.1,327.9 L1872.1,328.6 L1874.1,329.4 L1876.1,330.1 L1878.1,330.9 L1880.1,331.6 L1882.1,332.4 L1884.1,333.2 L1886.1,333.9 L1888.1,334.7 L1890.1,335.5 L1892.1,336.2 L1894.1,337.0 L1896.1,337.8 L1898.1,338.6 L1900.1,339.3 L1902.1,340.1 L1904.1,340.9 L1906.1,341.7 L1908.1,342.5 L1910.1,343.2 L1912.1,344.0 L1914.1,344.8 L1914.6,345.0 L1916.1,345.6 L1918.1,346.4 L1920.1,347.2 L1922.1,347.9 L1924.1,348.7 L1926.1,349.5 L1928.1,350.3 L1930.1,351.0 L1932.1,351.8 L1934.1,352.6 L1936.2,353.4 L1938.2,354.2 L1940.2,355.0 L1942.2,355.9 L1944.2,356.7 L1946.2,357.5 L1948.2,358.4 L1948.6,358.6 L1950.2,359.3 L1952.2,360.2 L1954.2,361.1 L1956.2,362.1 L1958.2,363.0 L1960.2,364.0 L1962.2,365.0 L1964.2,366.0 L1966.2,367.0 L1968.2,367.9 L1970.2,368.9 L1972.2,369.9 L1974.2,370.9 L1976.2,371.9 L1978.2,372.9 L1980.2,373.9 L1981.0,374.3 L1982.2,374.9 L1984.2,375.9" stroke="#ff0000"/>
<path d="M316.5,74.3 L318.5,74.2 L320.5,74.1 L322.5,74.1 L324.5,74.0 L326.5,73.9 L328.5,73.9 L330.5,73.8 L332.5,73.7 L334.5,73.7 L336.5,73.6 L338.5,73.6 L340.5,73.6 L341.2,73.6 L342.5,73.6 L344.5,73.6 L346.5,73.6 L348.5,73.6 L350.5,73.6 L352.5,73.6 L354.5,73.6 L356.5,73.6 L358.5,73.5 L360.5,73.5 L362.5,73.5 L364.5,73.5 L366.6,73.5 L368.6,73.5 L370.6,73.5 L372.6,73.5 L374.6,73.5 L376.6,73.5 L378.6,73.5 L380.6,73.5 L382.6,73.5 L384.6,73.5 L386.6,73.5 L388.6,73.5 L390.6,73.5 L392.6,73.5 L394.6,73.5 L396.6,73.5 L398.6,73.5 L400.6,73.5 L402.6,73.5 L404.6,73.5 L406.5,73.5 L406.6,73.5 L408.6,73.5 L410.6,73.5 L412.6,73.5 L414.6,73.5 L416.6,73.5 L418.6,73.5 L420.6,73.5 L422.6,73.5 L424.6,73.5 L426.6,73.5 L428.6,73.5 L430.6,73.5 L432.6,73.5 L434.6,73.5 L436.6,73.5 L438.6,73.5 L440.6,73.5 L442.6,73.5 L444.6,73.5 L446.6,73.6 L448.6,73.6 L450.6,73.6 L452.6,73.6 L454.6,73.6 L456.6,73.6 L458.6,73.6 L460.5,73.6 L460.6,73.6 L462.6,73.6 L464.7,73.6 L466.7,73.6 L468.7,73.6 L470.7,73.7 L472.7,73.7 L474.7,73.7 L476.7,73.8 L478.7,73.8 L480.7,73.8 L482.7,73.9 L484.7,73.9 L486.7,73.9 L487.8,73.9 L488.7,74.0 L490.7,74.0 L492.7,74.1 L494.7,74.1 L496.7,74.2 L498.7,74.3 L500.7,74.3 L502.7,74.4 L504.7,74.5 L506.7,74.6 L508.7,74.6 L510.7,74.7 L512.7,74.8 L514.3,74.9 L514.7,74.9 L516.7,75.0 L518.7,75.1 L520.7,75.2 L522.7,75.3 L524.7,75.4 L526.7,75.6 L528.7,75.7 L530.7,75.8 L532.6,75.9 L532.7,75.9 L534.7,76.1 L536.7,76.3 L538.7,76.4 L540.7,76.6 L542.7,76.8 L544.7,77.0 L546.7,77.2 L548.7,77.4 L550.7,77.6 L552.7,77.8 L554.5,77.9 L554.7,78.0 L556.7,78.1 L558.7,78.3 L560.7,78.5 L562.8,78.8 L564.8,79.0 L566.8,79.2 L568.8,79.4 L570.8,79.6 L572.8,79.8 L573.0,79.9 L574.8,80.1 L576.8,80.3 L578.8,80.6 L580.8,80.8 L582.8,81.1 L584.8,81.3 L586.8,81.6 L588.8,81.8 L590.8,82.1 L592.8,82.4 L594.8,82.6 L596.8,82.9 L598.8,83.2 L600.8,83.5 L602.8,83.8 L604.8,84.0 L606.8,84.3 L608.8,84.6 L610.8,84.9 L612.8,85.2 L613.2,85.3 L614.8,85.5 L616.8,85.8 L618.8,86.1 L620.8,86.4 L622.8,86.7 L624.8,87.0 L626.8,87.3 L628.8,87.7 L630.8,88.0 L632.8,88.3 L634.8,88.6 L636.8,89.0 L637.9,89.1 L638.8,89.3 L640.8,89.6 L642.8,89.9 L644.8,90.2 L646.8,90.6 L648.8,90.9 L650.8,91.2 L652.8,91.6 L654.8,91.9 L656.8,92.2 L658.8,92.5 L660.9,92.9 L661.9,93.1 L662.9,93.2 L664.9,93.6 L666.9,93.9 L668.9,94.2 L670.9,94.6 L672.9,94.9 L674.9,95.2 L676.9,95.6 L678.9,95.9 L680.9,96.3 L682.9,96.6 L684.9,97.0 L686.9,97.3 L688.9,97.7 L690.9,98.0 L692.9,98.4 L694.9,98.7 L696.9,99.1 L698.9,99.4 L700.9,99.8 L702.2,100.0 L702.9,100.2 L704.9,100.5 L706.9,100.9 L708.9,101.3 L710.9,101.7 L712.9,102.1 L714.9,102.4 L716.9,102.8 L718.9,103.2 L720.9,103.6 L722.9,104.0 L724.9,104.4 L726.9,104.8 L728.9,105.2 L730.9,105.6 L732.9,105.9 L734.9,106.3 L736.9,106.7 L738.9,107.1 L740.9,107.5 L742.5,107.7 L742.9,107.8 L744.9,108.2 L746.9,108.5 L748.9,108.9 L750.9,109.2 L752.9,109.6 L754.9,109.9 L756.9,110.3 L759.0,110.6 L761.0,111.0 L763.0,111.3 L765.0,111.6 L767.0,112.0 L769.0,112.3 L771.0,112.7 L773.0,113.0 L775.0,113.3 L777.0,113.7 L779.0,114.0 L781.0,114.3 L783.0,114.7 L785.0,115.0 L787.0,115.3 L787.8,115.5 L789.0,115.7 L791.0,116.0 L793.0,116.3 L795.0,116.7 L797.0,117.0 L799.0,117.3 L801.0,117.7 L803.0,118.0 L805.0,118.3 L807.0,118.6 L809.0,119.0 L811.0,119.3 L813.0,119.6 L815.0,120.0 L817.0,120.3 L819.0,120.6 L821.0,120.9 L823.0,121.2 L825.0,121.5 L827.0,121.9 L828.1,122.0 L829.0,122.2 L831.0,122.5 L833.0,122.8 L835.0,123.1 L837.0,123.4 L839.0,123.7 L841.0,124.0 L843.0,124.3 L845.0,124.6 L847.0,124.9 L849.0,125.2 L851.0,125.5 L853.0,125.8 L855.0,126.1 L857.1,126.3 L859.1,126.6 L861.1,126.9 L863.1,127.2 L865.1,127.5 L867.1,127.8 L868.4,128.1 L869.1,128.2 L871.1,128.5 L873.1,128.8 L875.1,129.1 L877.1,129.4 L879.1,129.7 L881.1,130.0 L883.1,130.4 L885.1,130.7 L887.1,131.0 L889.1,131.3 L891.1,131.6 L893.1,132.0 L895.1,132.3 L897.1,132.6 L898.6,132.8 L899.1,132.9 L901.1,133.2 L903.1,133.5 L905.1,133.8 L907.1,134.1 L909.1,134.4 L911.1,134.7 L913.1,135.0 L915.1,135.3 L917.1,135.6 L919.1,135.9 L921.1,136.2 L923.1,136.5 L925.1,136.8 L926.4,137.0 L927.1,137.1 L929.1,137.3 L931.1,137.6 L933.1,137.9 L935.1,138.2 L937.1,138.5 L939.1,138.7 L941.1,139.0 L943.1,139.3 L944.8,139.5 L945.1,139.6 L947.1,139.9 L949.1,140.1 L951.1,140.4 L953.1,140.7 L955.2,141.0 L957.2,141.3 L959.2,141.6 L961.2,141.8 L963.2,142.1 L965.2,142.4 L967.2,142.7 L969.2,143.0 L971.2,143.3 L973.2,143.5 L975.2,143.8 L977.2,144.1 L979.2,144.4 L981.2,144.6 L983.2,144.9 L985.0,145.2 L985.2,145.2 L987.2,145.5 L989.2,145.7 L991.2,146.0 L993.2,146.2 L995.2,146.5 L997.2,146.7 L999.2,147.0 L1001.2,147.3 L1003.2,147.5 L1005.2,147.8 L1007.2,148.0 L1009.2,148.3 L1009.2,148.3 L1011.2,148.6 L1013.2,148.8 L1015.2,149.1 L1017.2,149.3 L1019.2,149.6 L1021.2,149.8 L1023.2,150.1 L1025.2,150.4 L1027.2,150.6 L1029.2,150.9 L1031.2,151.1 L1033.2,151.4 L1035.2,151.7 L1037.2,151.9 L1039.2,152.2 L1041.2,152.4 L1043.2,152.7 L1045.2,153.0 L1047.2,153.2 L1049.2,153.5 L1051.2,153.8 L1053.3,154.0 L1055.3,154.3 L1057.3,154.6 L1059.3,154.9 L1061.3,155.1 L1063.3,155.4 L1064.8,155.6 L1065.3,155.7 L1067.3,156.0 L1069.3,156.2 L1071.3,156.5 L1073.3,156.8 L1075.3,157.1 L1077.3,157.4 L1079.3,157.7 L1081.3,158.0 L1083.3,158.3 L1085.3,158.6 L1087.3,158.9 L1089.3,159.2 L1091.3,159.5 L1093.3,159.8 L1095.3,160.1 L1097.3,160.4 L1099.3,160.7 L1101.3,161.0 L1103.3,161.3 L1105.3,161.6 L1107.3,161.9 L1109.3,162.2 L1111.3,162.5 L1113.3,162.8 L1115.3,163.1 L1117.3,163.4 L1119.3,163.7 L1120.0,163.8 L1121.3,164.0 L1123.3,164.3 L1125.3,164.6 L1127.3,164.9 L1129.3,165.1 L1131.3,165.4 L1133.3,165.7 L1135.3,166.0 L1137.3,166.3 L1139.3,166.6 L1141.3,166.9 L1143.3,167.2 L1145.3,167.5 L1147.3,167.8 L1149.3,168.0 L1151.4,168.3 L1153.4,168.6 L1155.4,168.9 L1157.4,169.2 L1159.4,169.5 L1161.4,169.7 L1163.4,170.0 L1165.4,170.3 L1167.4,170.5 L1169.4,170.8 L1171.4,171.1 L1173.4,171.3 L1175.4,171.6 L1177.4,171.8 L1179.4,172.0 L1181.4,172.3 L1181.5,172.3 L1183.4,172.5 L1185.4,172.7 L1187.4,173.0 L1189.4,173.2 L1191.4,173.4 L1193.4,173.6 L1195.4,173.9 L1197.4,174.1 L1199.4,174.3 L1201.4,174.5 L1203.4,174.7 L1205.4,174.9 L1207.4,175.1 L1209.4,175.3 L1211.4,175.5 L1213.4,175.7 L1215.4,175.9 L1217.4,176.1 L1219.4,176.3 L1221.4,176.5 L1223.4,176.7 L1225.4,176.9 L1227.4,177.1 L1229.4,177.3 L1231.4,177.5 L1233.4,177.6 L1235.4,177.8 L1237.4,178.0 L1239.4,178.2 L1241.4,178.4 L1243.4,178.6 L1245.4,178.8 L1247.4,179.0 L1249.5,179.2 L1251.5,179.4 L1253.5,179.6 L1255.5,179.8 L1257.5,180.0 L1259.5,180.1 L1261.5,180.3 L1263.0,180.5 L1263.5,180.5 L1265.5,180.7 L1267.5,180.9 L1269.5,181.1 L1271.5,181.3 L1273.5,181.5 L1275.5,181.7 L1277.5,181.9 L1279.5,182.1 L1281.5,182.3 L1283.5,182.5 L1285.5,182.8 L1287.5,183.0 L1289.5,183.2 L1291.5,183.4 L1293.5,183.6 L1295.5,183.8 L1297.5,184.0 L1299.5,184.2 L1301.5,184.3 L1303.5,184.5 L1305.5,184.7 L1307.5,184.9 L1309.5,185.1 L1311.5,185.3 L1313.5,185.5 L1315.5,185.7 L1317.5,185.9 L1319.5,186.1 L1321.5,186.3 L1323.5,186.5 L1325.5,186.7 L1327.5,186.9 L1329.5,187.1 L1331.5,187.3 L1333.5,187.5 L1335.5,187.7 L1337.5,187.9 L1339.5,188.1 L1341.5,188.3 L1343.5,188.5 L1344.4,188.6 L1345.5,188.7 L1347.6,188.9 L1349.6,189.1 L1351.6,189.3 L1353.6,189.5 L1355.6,189.7 L1357.6,189.9 L1359.6,190.1 L1361.6,190.3 L1363.6,190.5 L1365.6,190.7 L1367.6,190.9 L1369.6,191.0 L1371.6,191.2 L1373.6,191.4 L1375.6,191.6 L1377.6,191.8 L1379.6,192.0 L1381.6,192.2 L1383.6,192.4 L1385.6,192.6 L1387.6,192.8 L1389.6,193.0 L1391.6,193.2 L1393.6,193.4 L1395.6,193.6 L1397.6,193.8 L1399.6,193.9 L1401.6,194.1 L1403.6,194.3 L1405.6,194.5 L1407.6,194.7 L1409.6,194.9 L1411.6,195.1 L1413.6,195.3 L1415.6,195.5 L1417.6,195.7 L1419.6,195.9 L1421.6,196.1 L1423.6,196.3 L1425.6,196.5 L1425.9,196.5 L1427.6,196.7 L1429.6,196.9 L1431.6,197.1 L1433.6,197.2 L1435.6,197.4 L1437.6,197.6 L1439.6,197.8 L1441.6,198.0 L1443.6,198.2 L1445.7,198.3 L1447.7,198.5 L1449.7,198.7 L1451.7,198.9 L1453.7,199.1 L1455.7,199.3 L1457.7,199.4 L1459.7,199.6 L1461.7,199.8 L1463.7,200.0 L1465.7,200.2 L1467.7,200.4 L1469.7,200.6 L1471.7,200.8 L1473.7,201.0 L1475.7,201.2 L1477.7,201.4 L1479.7,201.6 L1481.7,201.8 L1483.7,202.0 L1485.7,202.2 L1487.7,202.4 L1489.7,202.7 L1491.7,202.9 L1493.7,203.1 L1495.7,203.4 L1496.6,203.5 L1497.7,203.6 L1499.7,203.9 L1501.7,204.1 L1503.7,204.4 L1505.7,204.7 L1507.7,204.9 L1509.7,205.2 L1511.7,205.5 L1513.7,205.8 L1515.7,206.1 L1517.7,206.4 L1519.7,206.7 L1521.7,207.0 L1523.7,207.3 L1525.7,207.6 L1527.7,208.0 L1529.7,208.3 L1531.7,208.7 L1533.7,209.1 L1535.7,209.5 L1537.7,209.9 L1539.7,210.3 L1540.7,210.5 L1541.7,210.7 L1543.8,211.2 L1545.8,211.7 L1547.8,212.3 L1549.8,212.8 L1551.8,213.4 L1553.8,214.1 L1555.8,214.7 L1557.8,215.4 L1559.8,216.0 L1561.1,216.5 L1561.8,216.7 L1563.8,217.4 L1565.8,218.2 L1567.8,218.9 L1569.8,219.7 L1571.8,220.6 L1573.8,221.4 L1575.8,222.3 L1577.8,223.2 L1579.8,224.2 L1581.5,225.0 L1581.8,225.1 L1583.8,226.2 L1585.8,227.3 L1587.8,228.5 L1589.8,229.7 L1591.8,231.0 L1593.8,232.2 L1595.8,233.5 L1597.8,234.8 L1599.8,236.1 L1601.8,237.4 L1601.8,237.4 L1603.8,238.7 L1605.8,240.0 L1607.8,241.3 L1609.8,242.6 L1611.8,244.0 L1613.8,245.3 L1615.8,246.6 L1617.8,247.9 L1619.8,249.2 L1621.8,250.4 L1622.2,250.6 L1623.8,251.6 L1625.8,252.7 L1627.8,253.9 L1629.8,255.0 L1631.8,256.1 L1633.8,257.2 L1635.8,258.3 L1637.8,259.4 L1639.8,260.4 L1641.9,261.4 L1642.6,261.8 L1643.9,262.4 L1645.9,263.4 L1647.9,264.3 L1649.9,265.2 L1651.9,266.2 L1653.9,267.0 L1655.9,267.9 L1657.9,268.8 L1659.9,269.7 L1661.9,270.5 L1663.0,271.0 L1663.9,271.4 L1665.9,272.2 L1667.9,273.1 L1669.9,273.9 L1671.9,274.7 L1673.9,275.5 L1675.9,276.3 L1677.9,277.1 L1679.9,277.9 L1681.9,278.7 L1683.3,279.2 L1683.9,279.4 L1685.9,280.2 L1687.9,280.9 L1689.9,281.7 L1691.9,282.4 L1693.9,283.1 L1695.9,283.8 L1697.9,284.5 L1699.9,285.2 L1701.9,285.8 L1703.7,286.3 L1703.9,286.4 L1705.9,286.9 L1707.9,287.4 L1709.9,288.0 L1711.9,288.5 L1713.9,289.0 L1715.9,289.4 L1717.9,289.9 L1719.9,290.3 L1721.9,290.8 L1723.9,291.2 L1725.9,291.7 L1727.9,292.1 L1729.9,292.5 L1731.9,292.9 L1733.9,293.3 L1735.9,293.7 L1737.9,294.2 L1740.0,294.6 L1742.0,295.0 L1744.0,295.4 L1744.4,295.5 L1746.0,295.8 L1748.0,296.2 L1750.0,296.7 L1752.0,297.1 L1754.0,297.5 L1756.0,297.9 L1758.0,298.3 L1760.0,298.7 L1762.0,299.1 L1764.0,299.5 L1766.0,299.8 L1768.0,300.2 L1770.0,300.6 L1772.0,301.0 L1774.0,301.4 L1776.0,301.8 L1778.0,302.2 L1780.0,302.6 L1782.0,303.0 L1784.0,303.4 L1785.2,303.6 L1786.0,303.8 L1788.0,304.2 L1790.0,304.5 L1792.0,304.9 L1794.0,305.3 L1796.0,305.7 L1798.0,306.1 L1800.0,306.5 L1802.0,306.9 L1804.0,307.3 L1806.0,307.7 L1808.0,308.1 L1810.0,308.5 L1812.0,308.8 L1814.0,309.2 L1816.0,309.7 L1818.0,310.1 L1820.0,310.5 L1822.0,310.9 L1824.0,311.3 L1825.9,311.7 L1826.0,311.7 L1828.0,312.2 L1830.0,312.6 L1832.0,313.0 L1834.0,313.5 L1836.0,313.9 L1838.1,314.4 L1840.1,314.8 L1842.1,315.3 L1844.1,315.7 L1846.1,316.2 L1848.1,316.7 L1850.1,317.1 L1852.1,317.6 L1854.1,318.1 L1856.1,318.6 L1858.1,319.0 L1860.1,319.5 L1862.1,320.0 L1863.7,320.4 L1864.1,320.5 L1866.1,321.0 L1868.1,321.5 L1870.1,322.0 L1872.1,322.5 L1874.1,323.0 L1876.1,323.5 L1878.1,324.0 L1880.1,324.5 L1882.1,325.0 L1884.1,325.5 L1886.1,326.0 L1888.1,326.6 L1890.1,327.1 L1892.1,327.6 L1894.1,328.1 L1896.1,328.7 L1898.1,329.2 L1900.1,329.7 L1902.1,330.3 L1904.1,330.8 L1906.1,331.3 L1908.1,331.9 L1910.1,332.4 L1912.1,332.9 L1914.1,333.5 L1914.6,333.6 L1916.1,334.0 L1918.1,334.5 L1920.1,335.1 L1922.1,335.6 L1924.1,336.1 L1926.1,336.6 L1928.1,337.2 L1930.1,337.7 L1932.1,338.2 L1934.1,338.8 L1936.2,339.3 L1938.2,339.9 L1940.2,340.5 L1942.2,341.0 L1944.2,341.6 L1946.2,342.2 L1948.2,342.9 L1948.6,343.0 L1950.2,343.5 L1952.2,344.2 L1954.2,344.8 L1956.2,345.6 L1958.2,346.3 L1960.2,347.0 L1962.2,347.8 L1964.2,348.5 L1966.2,349.3 L1968.2,350.0 L1970.2,350.8 L1972.2,351.6 L1974.2,352.3 L1976.2,353.1 L1978.2,353.9 L1980.2,354.6 L1981.0,354.9 L1982.2,355.3 L1984.2,356.1" stroke="#0000ff"/>
<path d="M316.5,74.6 L318.5,74.6 L320.5,74.6 L322.5,74.6 L324.5,74.6 L326.5,74.6 L328.5,74.7 L330.5,74.7 L332.5,74.7 L334.5,74.7 L336.5,74.7 L338.5,74.7 L340.5,74.7 L341.2,74.7 L342.5,74.7 L344.5,74.7 L346.5,74.7 L348.5,74.7 L350.5,74.7 L352.5,74.7 L354.5,74.7 L356.5,74.7 L358.5,74.7 L360.5,74.7 L362.5,74.7 L364.5,74.7 L366.6,74.7 L368.6,74.7 L370.6,74.7 L372.6,74.7 L374.6,74.7 L375.7,74.8 L376.6,74.8 L378.6,74.8 L380.6,74.8 L382.6,74.8 L384.6,74.9 L386.6,74.9 L388.6,74.9 L390.6,75.0 L392.6,75.0 L394.6,75.1 L396.6,75.2 L398.6,75.2 L400.6,75.3 L402.6,75.4 L404.6,75.4 L406.6,75.5 L408.6,75.5 L410.6,75.6 L412.6,75.7 L414.6,75.7 L416.0,75.8 L416.6,75.8 L418.6,75.8 L420.6,75.9 L422.6,76.0 L424.6,76.0 L426.6,76.1 L428.6,76.1 L430.6,76.2 L432.6,76.3 L434.6,76.3 L436.6,76.4 L438.6,76.4 L440.6,76.5 L442.6,76.6 L444.6,76.6 L446.6,76.7 L448.6,76.8 L450.6,76.8 L452.6,76.9 L454.6,77.0 L456.6,77.0 L458.6,77.1 L460.5,77.2 L460.6,77.2 L462.6,77.2 L464.7,77.3 L466.7,77.4 L468.7,77.5 L470.7,77.5 L472.7,77.6 L474.7,77.7 L476.7,77.8 L478.7,77.9 L480.7,77.9 L482.7,78.0 L484.7,78.1 L486.7,78.2 L488.7,78.3 L490.7,78.4 L492.4,78.5 L492.7,78.5 L494.7,78.6 L496.7,78.6 L498.7,78.7 L500.7,78.8 L502.7,78.9 L504.7,79.0 L506.7,79.1 L508.7,79.2 L510.7,79.3 L512.7,79.4 L514.7,79.5 L516.7,79.6 L518.7,79.7 L520.7,79.8 L522.7,79.9 L524.7,80.0 L526.7,80.1 L528.7,80.2 L530.7,80.3 L532.6,80.4 L532.7,80.4 L534.7,80.5 L536.7,80.6 L538.7,80.7 L540.7,80.8 L542.7,80.9 L544.7,81.0 L546.7,81.1 L548.7,81.3 L550.7,81.4 L552.7,81.5 L554.5,81.7 L554.7,81.7 L556.7,81.9 L558.7,82.0 L560.7,82.2 L562.8,82.5 L564.8,82.7 L566.8,83.0 L568.8,83.2 L570.8,83.5 L572.8,83.8 L574.8,84.1 L576.8,84.4 L578.8,84.8 L580.1,85.0 L580.8,85.1 L582.8,85.5 L584.8,85.9 L586.8,86.3 L588.8,86.7 L590.8,87.2 L592.8,87.7 L594.8,88.2 L596.8,88.7 L598.8,89.3 L600.8,89.8 L602.8,90.4 L604.8,90.9 L605.2,91.1 L606.8,91.5 L608.8,92.1 L610.8,92.7 L612.8,93.4 L614.8,94.1 L616.8,94.7 L618.8,95.4 L620.8,96.1 L621.4,96.3 L622.8,96.7 L624.8,97.4 L626.8,98.1 L628.8,98.8 L630.8,99.5 L632.8,100.2 L634.8,100.9 L636.8,101.6 L637.4,101.8 L638.8,102.3 L640.8,103.0 L642.8,103.8 L644.8,104.5 L646.8,105.3 L648.8,106.0 L649.5,106.3 L650.8,106.7 L652.8,107.4 L654.8,108.1 L656.8,108.8 L658.8,109.5 L660.9,110.2 L662.9,110.8 L664.9,111.5 L666.9,112.2 L668.9,112.8 L670.9,113.5 L672.9,114.1 L673.7,114.4 L674.9,114.8 L676.9,115.5 L678.9,116.1 L680.9,116.8 L682.9,117.4 L684.5,118.0 L684.9,118.1 L686.9,118.7 L688.9,119.3 L690.9,119.9 L692.9,120.6 L694.9,121.2 L695.5,121.4 L696.9,121.8 L698.9,122.4 L700.9,123.0 L702.9,123.7 L704.9,124.3 L706.9,124.9 L708.9,125.6 L710.9,126.2 L712.9,126.8 L714.9,127.5 L716.9,128.1 L718.9,128.7 L720.9,129.3 L722.9,130.0 L724.9,130.6 L726.9,131.2 L728.9,131.8 L730.9,132.4 L732.9,133.0 L734.9,133.6 L736.9,134.2 L738.9,134.8 L739.8,135.1 L740.9,135.4 L742.9,136.0 L744.9,136.6 L746.9,137.1 L748.9,137.7 L750.9,138.3 L752.9,138.8 L754.9,139.4 L756.9,139.9 L759.0,140.5 L761.0,141.0 L763.0,141.6 L765.0,142.1 L767.0,142.7 L769.0,143.2 L771.0,143.8 L773.0,144.3 L775.0,144.8 L777.0,145.4 L779.0,145.9 L781.0,146.4 L783.0,146.9 L784.0,147.2 L785.0,147.5 L787.0,148.0 L789.0,148.5 L791.0,149.0 L793.0,149.5 L795.0,150.0 L797.0,150.5 L799.0,151.0 L801.0,151.5 L803.0,152.0 L805.0,152.5 L807.0,153.0 L809.0,153.5 L811.0,154.0 L813.0,154.5 L815.0,155.0 L817.0,155.5 L819.0,155.9 L821.0,156.4 L823.0,156.9 L825.0,157.4 L827.0,157.9 L828.4,158.3 L829.0,158.4 L831.0,158.9 L833.0,159.5 L835.0,160.0 L837.0,160.5 L839.0,161.0 L841.0,161.5 L843.0,162.0 L845.0,162.5 L847.0,163.1 L849.0,163.6 L851.0,164.1 L853.0,164.6 L855.0,165.1 L857.1,165.6 L858.4,165.9 L859.1,166.1 L861.1,166.6 L863.1,167.1 L865.1,167.6 L867.1,168.0 L869.1,168.5 L871.1,169.0 L873.1,169.5 L875.1,170.0 L877.1,170.5 L879.1,171.0 L881.1,171.4 L883.1,171.9 L885.1,172.4 L887.1,172.8 L889.1,173.3 L891.1,173.7 L893.1,174.2 L894.2,174.4 L895.1,174.6 L897.1,175.0 L899.1,175.4 L901.1,175.9 L903.1,176.3 L905.1,176.7 L907.1,177.0 L909.1,177.4 L911.1,177.8 L912.5,178.1 L913.1,178.3 L915.1,178.7 L917.1,179.1 L919.1,179.5 L921.1,179.9 L923.1,180.3 L925.1,180.7 L927.1,181.1 L929.1,181.6 L930.0,181.7 L931.1,182.0 L933.1,182.4 L935.1,182.8 L937.1,183.2 L939.1,183.6 L941.1,184.1 L943.1,184.5 L944.8,184.8 L945.1,184.9 L947.1,185.3 L949.1,185.6 L951.1,186.0 L953.1,186.4 L955.2,186.8 L957.2,187.2 L959.2,187.6 L961.2,188.0 L963.2,188.3 L965.2,188.7 L967.2,189.1 L969.2,189.4 L971.2,189.8 L972.5,190.0 L973.2,190.2 L975.2,190.5 L977.2,190.9 L979.2,191.2 L981.2,191.6 L983.2,191.9 L985.2,192.3 L987.2,192.6 L989.2,193.0 L991.2,193.3 L993.2,193.7 L995.2,194.0 L997.2,194.3 L999.2,194.7 L1000.2,194.8 L1001.2,195.0 L1003.2,195.3 L1005.2,195.6 L1007.2,195.9 L1009.2,196.3 L1011.2,196.6 L1013.2,196.9 L1015.2,197.2 L1017.2,197.5 L1019.2,197.8 L1021.2,198.1 L1023.2,198.4 L1025.2,198.7 L1027.2,199.0 L1029.2,199.3 L1031.2,199.6 L1033.2,199.9 L1035.2,200.2 L1035.2,200.2 L1037.2,200.5 L1039.2,200.8 L1041.2,201.1 L1043.2,201.4 L1045.2,201.7 L1046.9,201.9 L1047.2,202.0 L1049.2,202.3 L1051.2,202.6 L1053.3,202.9 L1055.3,203.2 L1057.3,203.5 L1059.3,203.8 L1061.3,204.1 L1063.3,204.4 L1065.3,204.7 L1067.1,205.0 L1067.3,205.0 L1069.3,205.3 L1071.3,205.6 L1073.3,205.8 L1075.3,206.1 L1077.3,206.4 L1079.3,206.6 L1081.3,206.9 L1083.3,207.2 L1085.3,207.4 L1087.3,207.7 L1089.3,207.9 L1091.3,208.2 L1093.3,208.4 L1095.3,208.7 L1097.3,209.0 L1099.3,209.2 L1101.3,209.5 L1103.3,209.7 L1105.3,210.0 L1107.3,210.2 L1109.3,210.5 L1111.3,210.8 L1113.3,211.1 L1115.3,211.3 L1117.3,211.6 L1119.3,211.9 L1120.0,212.0 L1121.3,212.2 L1123.3,212.5 L1125.3,212.8 L1127.3,213.1 L1129.3,213.5 L1131.3,213.8 L1133.3,214.1 L1135.3,214.4 L1137.3,214.7 L1139.3,215.0 L1140.0,215.1 L1141.3,215.3 L1143.3,215.5 L1145.3,215.8 L1147.3,216.0 L1149.3,216.3 L1151.4,216.5 L1153.4,216.8 L1155.4,217.0 L1157.4,217.2 L1159.4,217.4 L1161.4,217.7 L1163.4,217.9 L1165.4,218.1 L1167.4,218.3 L1169.4,218.5 L1171.4,218.8 L1173.4,219.0 L1175.4,219.2 L1177.4,219.4 L1179.4,219.7 L1181.4,219.9 L1181.5,219.9 L1183.4,220.1 L1185.4,220.3 L1187.4,220.6 L1189.4,220.8 L1191.4,221.0 L1193.4,221.3 L1195.4,221.5 L1197.4,221.7 L1199.4,221.9 L1201.4,222.2 L1203.4,222.4 L1205.4,222.6 L1207.4,222.8 L1209.4,223.1 L1211.4,223.3 L1213.4,223.5 L1215.4,223.8 L1217.4,224.0 L1219.4,224.2 L1221.4,224.4 L1223.4,224.7 L1225.4,224.9 L1227.4,225.1 L1229.4,225.3 L1231.4,225.6 L1233.4,225.8 L1235.4,226.0 L1237.4,226.3 L1239.4,226.5 L1241.4,226.7 L1243.4,227.0 L1245.4,227.2 L1247.4,227.4 L1249.5,227.7 L1251.5,227.9 L1253.5,228.1 L1255.5,228.4 L1256.6,228.5 L1257.5,228.6 L1259.5,228.8 L1261.5,229.1 L1263.5,229.3 L1265.5,229.6 L1267.5,229.8 L1269.5,230.0 L1271.5,230.3 L1273.5,230.5 L1275.5,230.7 L1277.5,231.0 L1279.5,231.2 L1281.5,231.5 L1283.5,231.7 L1285.5,231.9 L1287.5,232.2 L1289.5,232.4 L1291.5,232.7 L1293.5,232.9 L1295.5,233.1 L1297.5,233.4 L1299.5,233.6 L1301.5,233.9 L1303.5,234.1 L1305.5,234.3 L1307.5,234.6 L1309.5,234.8 L1311.5,235.1 L1313.5,235.3 L1315.5,235.6 L1317.5,235.8 L1319.5,236.1 L1321.5,236.3 L1323.5,236.5 L1325.5,236.8 L1327.5,237.0 L1329.5,237.3 L1331.5,237.5 L1333.5,237.8 L1335.5,238.0 L1337.5,238.3 L1339.5,238.6 L1341.5,238.8 L1343.5,239.1 L1345.5,239.3 L1347.6,239.6 L1349.6,239.8 L1351.6,240.1 L1353.6,240.4 L1355.6,240.6 L1357.6,240.9 L1359.6,241.1 L1361.6,241.4 L1363.6,241.7 L1365.6,241.9 L1367.6,242.2 L1369.6,242.5 L1371.6,242.7 L1373.6,243.0 L1375.6,243.3 L1377.6,243.6 L1379.6,243.8 L1380.0,243.9 L1381.6,244.1 L1383.6,244.4 L1385.6,244.7 L1387.6,245.0 L1389.6,245.3 L1391.6,245.6 L1393.6,245.8 L1395.6,246.1 L1397.6,246.4 L1399.6,246.7 L1401.6,247.0 L1403.6,247.3 L1405.6,247.6 L1407.6,248.0 L1409.6,248.3 L1411.6,248.6 L1413.6,248.9 L1415.6,249.2 L1417.6,249.5 L1419.6,249.8 L1421.6,250.1 L1423.6,250.4 L1425.6,250.8 L1425.9,250.8 L1427.6,251.1 L1429.6,251.4 L1431.6,251.7 L1433.6,252.0 L1435.6,252.3 L1437.6,252.6 L1439.6,252.9 L1441.6,253.2 L1443.6,253.6 L1445.7,253.9 L1447.7,254.2 L1449.7,254.5 L1451.7,254.8 L1453.7,255.1 L1455.7,255.4 L1457.7,255.8 L1459.7,256.1 L1461.7,256.4 L1463.7,256.7 L1465.7,257.0 L1467.7,257.4 L1469.7,257.7 L1471.7,258.0 L1473.7,258.4 L1475.7,258.7 L1477.7,259.1 L1479.7,259.4 L1481.7,259.7 L1483.7,260.1 L1485.7,260.5 L1487.7,260.8 L1489.7,261.2 L1491.7,261.6 L1493.7,261.9 L1495.7,262.3 L1496.6,262.5 L1497.7,262.7 L1499.7,263.1 L1501.7,263.5 L1503.7,263.9 L1505.7,264.3 L1507.7,264.7 L1509.7,265.2 L1511.7,265.6 L1513.7,266.0 L1515.7,266.5 L1517.7,266.9 L1519.7,267.4 L1521.7,267.8 L1523.7,268.3 L1525.7,268.8 L1527.7,269.3 L1529.7,269.7 L1531.7,270.2 L1533.7,270.7 L1535.7,271.2 L1537.7,271.7 L1539.7,272.3 L1540.7,272.5 L1541.7,272.8 L1543.8,273.3 L1545.8,273.8 L1547.8,274.4 L1549.8,274.9 L1551.8,275.5 L1553.8,276.1 L1555.8,276.7 L1557.8,277.3 L1559.8,278.0 L1561.1,278.5 L1561.8,278.7 L1563.8,279.5 L1565.8,280.4 L1567.8,281.3 L1569.8,282.2 L1571.8,283.2 L1573.8,284.2 L1575.8,285.3 L1577.8,286.4 L1579.8,287.5 L1581.5,288.5 L1581.8,288.7 L1583.8,289.9 L1585.8,291.3 L1587.8,292.7 L1589.8,294.3 L1591.8,295.8 L1593.8,297.4 L1595.8,299.0 L1597.8,300.5 L1599.8,302.0 L1601.8,303.5 L1601.8,303.5 L1603.8,304.9 L1605.8,306.4 L1607.8,307.8 L1609.8,309.3 L1611.8,310.7 L1613.8,312.1 L1615.8,313.5 L1617.8,314.8 L1619.8,316.1 L1621.8,317.3 L1622.2,317.5 L1623.8,318.4 L1625.8,319.5 L1627.8,320.5 L1629.8,321.5 L1631.8,322.4 L1633.8,323.4 L1635.8,324.4 L1637.8,325.4 L1639.8,326.4 L1641.9,327.6 L1642.6,328.0 L1643.9,328.8 L1645.9,330.1 L1647.9,331.4 L1649.9,332.9 L1651.9,334.4 L1652.8,335.2 L1653.9,336.1 L1655.9,337.9 L1657.9,339.8 L1659.9,341.8 L1661.9,344.0 L1663.0,345.4 L1663.9,346.5 L1665.9,349.4 L1667.9,352.6 L1669.9,356.0 L1671.9,359.5 L1673.1,361.6 L1673.9,362.9 L1675.9,366.5 L1677.9,370.1 L1679.9,373.8 L1681.9,377.5 L1683.3,380.0 L1683.9,381.1 L1685.9,384.7 L1687.9,388.3 L1689.9,391.9 L1691.9,395.4 L1693.9,398.8 L1694.0,399.0 L1695.9,402.2 L1697.9,405.5 L1699.9,408.8 L1701.9,412.0 L1703.9,415.1 L1705.9,418.2 L1707.9,421.2 L1709.9,424.2 L1710.9,425.6 L1711.9,427.1 L1713.9,429.9 L1715.9,432.6 L1717.9,435.4 L1719.9,438.0 L1721.9,440.7 L1723.9,443.3 L1725.9,445.8 L1727.9,448.3 L1729.9,450.8 L1731.9,453.2 L1733.9,455.6 L1734.6,456.4 L1735.9,458.0 L1737.9,460.3 L1740.0,462.6 L1742.0,464.9 L1744.0,467.2 L1746.0,469.4 L1748.0,471.7 L1750.0,473.9 L1752.0,476.0 L1754.0,478.2 L1756.0,480.3 L1758.0,482.4 L1760.0,484.5 L1762.0,486.6 L1764.0,488.6 L1766.0,490.6 L1768.0,492.6 L1770.0,494.6 L1771.9,496.5 L1772.0,496.6 L1774.0,498.5 L1776.0,500.4 L1778.0,502.3 L1780.0,504.2 L1782.0,506.0 L1784.0,507.8 L1786.0,509.6 L1788.0,511.4 L1790.0,513.2 L1792.0,515.0 L1794.0,516.7 L1796.0,518.5 L1798.0,520.2 L1800.0,522.0 L1802.0,523.7 L1804.0,525.5 L1806.0,527.2 L1808.0,529.0 L1809.3,530.1 L1810.0,530.7 L1812.0,532.5 L1814.0,534.3 L1816.0,536.0 L1818.0,537.8 L1820.0,539.6 L1822.0,541.3 L1824.0,543.1 L1826.0,544.8 L1828.0,546.6 L1830.0,548.3 L1832.0,550.1 L1834.0,551.8 L1836.0,553.6 L1838.1,555.3 L1840.1,557.0 L1842.1,558.8 L1844.1,560.5 L1846.1,562.2 L1846.6,562.7 L1848.1,564.0 L1850.1,565.7 L1852.1,567.4 L1854.1,569.1 L1856.1,570.8 L1858.1,572.5 L1860.1,574.2 L1862.1,575.9 L1864.1,577.6 L1866.1,579.3 L1868.1,581.0 L1870.1,582.7 L1872.1,584.4 L1874.1,586.1 L1876.1,587.8 L1878.1,589.5 L1880.1,591.2 L1882.1,592.9 L1883.9,594.4 L1884.1,594.6 L1886.1,596.3 L1888.1,598.0 L1890.1,599.7 L1892.1,601.4 L1894.1,603.1 L1896.1,604.8 L1898.1,606.5 L1900.1,608.2 L1902.1,609.9 L1904.1,611.6 L1906.1,613.3 L1908.1,615.0 L1910.1,616.7 L1912.1,618.4 L1914.1,620.1 L1916.1,621.8 L1918.1,623.5 L1920.1,625.2 L1921.2,626.1 L1922.1,626.9 L1924.1,628.6 L1926.1,630.3 L1928.1,632.0 L1930.1,633.7 L1932.1,635.4 L1934.1,637.1 L1936.2,638.8 L1938.2,640.5 L1940.2,642.3 L1942.2,644.0 L1944.2,645.7 L1946.2,647.4 L1948.2,649.1 L1950.2,650.8 L1952.2,652.5 L1954.2,654.2 L1956.2,655.9 L1958.2,657.6 L1958.5,657.9 L1960.2,659.3 L1962.2,661.0 L1964.2,662.7 L1966.2,664.5 L1968.2,666.2 L1970.2,667.9 L1972.2,669.6 L1974.2,671.3 L1976.2,673.0 L1978.2,674.7 L1980.2,676.4 L1981.0,677.1 L1982.2,678.1 L1984.2,679.8" stroke="#008080"/>
<path d="M316.5,74.8 L318.5,74.8 L320.5,74.8 L322.5,74.8 L324.5,74.8 L326.5,74.7 L328.5,74.7 L330.5,74.7 L332.5,74.7 L334.5,74.7 L336.5,74.7 L338.5,74.7 L340.5,74.7 L341.2,74.7 L342.5,74.7 L344.5,74.7 L346.5,74.7 L348.5,74.7 L350.5,74.7 L352.5,74.7 L354.5,74.7 L356.5,74.7 L358.5,74.7 L360.5,74.7 L362.5,74.7 L364.5,74.7 L366.6,74.8 L368.6,74.8 L370.6,74.8 L372.6,74.8 L374.6,74.8 L376.6,74.8 L378.6,74.8 L380.6,74.8 L382.6,74.8 L384.6,74.9 L386.6,74.9 L388.6,74.9 L390.6,74.9 L392.6,74.9 L394.6,74.9 L396.6,74.9 L398.6,75.0 L400.6,75.0 L402.6,75.0 L404.6,75.0 L406.6,75.0 L408.6,75.0 L410.6,75.1 L412.6,75.1 L414.6,75.1 L416.0,75.1 L416.6,75.1 L418.6,75.1 L420.6,75.2 L422.6,75.2 L424.6,75.2 L426.6,75.3 L428.6,75.3 L430.6,75.4 L432.6,75.4 L434.6,75.5 L436.6,75.5 L438.6,75.6 L440.6,75.6 L442.6,75.7 L444.6,75.8 L446.6,75.8 L448.6,75.9 L450.6,75.9 L452.6,76.0 L454.6,76.1 L456.6,76.1 L458.6,76.2 L460.5,76.2 L460.6,76.2 L462.6,76.3 L464.7,76.3 L466.7,76.4 L468.7,76.4 L470.7,76.5 L472.7,76.5 L474.7,76.6 L476.7,76.6 L478.7,76.7 L480.7,76.7 L482.7,76.8 L484.7,76.8 L486.7,76.9 L488.7,76.9 L490.7,77.0 L492.4,77.1 L492.7,77.1 L494.7,77.2 L496.7,77.2 L498.7,77.3 L500.7,77.4 L502.7,77.5 L504.7,77.6 L506.7,77.7 L508.7,77.8 L510.7,77.9 L512.7,78.1 L514.7,78.2 L516.7,78.3 L518.7,78.4 L520.7,78.6 L522.7,78.7 L524.7,78.9 L526.7,79.0 L528.7,79.2 L530.7,79.3 L532.6,79.5 L532.7,79.5 L534.7,79.7 L536.7,79.8 L538.7,80.0 L540.7,80.2 L542.7,80.5 L544.7,80.7 L546.7,80.9 L548.7,81.2 L550.7,81.5 L552.7,81.7 L554.7,82.0 L556.7,82.3 L558.7,82.6 L560.7,82.8 L562.8,83.1 L564.8,83.4 L566.8,83.7 L568.8,84.0 L570.8,84.3 L572.8,84.6 L573.0,84.6 L574.8,84.9 L576.8,85.2 L578.8,85.5 L580.8,85.8 L582.8,86.1 L584.8,86.4 L586.8,86.8 L588.8,87.1 L590.8,87.4 L592.8,87.8 L594.8,88.1 L596.8,88.4 L598.8,88.8 L600.8,89.1 L602.8,89.5 L604.8,89.8 L606.8,90.2 L608.8,90.5 L610.8,90.9 L612.8,91.2 L613.2,91.3 L614.8,91.6 L616.8,92.0 L618.8,92.3 L620.8,92.7 L622.8,93.1 L624.8,93.5 L626.8,93.9 L628.8,94.3 L630.8,94.7 L632.8,95.1 L634.8,95.5 L636.8,95.9 L638.8,96.3 L640.8,96.6 L642.8,97.0 L644.8,97.4 L646.8,97.8 L648.8,98.2 L650.8,98.5 L652.8,98.9 L654.8,99.2 L656.8,99.6 L658.8,99.9 L660.9,100.2 L661.9,100.3 L662.9,100.5 L664.9,100.7 L666.9,101.0 L668.9,101.3 L670.9,101.6 L672.9,101.9 L674.9,102.1 L676.9,102.4 L678.9,102.7 L680.9,102.9 L682.9,103.2 L684.9,103.4 L686.9,103.6 L688.9,103.9 L690.9,104.1 L692.9,104.3 L694.9,104.5 L696.9,104.7 L698.9,104.9 L700.9,105.0 L702.2,105.1 L702.9,105.2 L704.9,105.3 L706.9,105.5 L708.9,105.6 L710.9,105.8 L712.9,105.9 L714.9,106.1 L716.9,106.2 L718.9,106.3 L720.9,106.4 L722.9,106.6 L724.9,106.7 L726.9,106.8 L728.9,106.9 L730.9,107.0 L732.9,107.1 L734.9,107.2 L736.9,107.3 L738.9,107.4 L740.9,107.5 L742.5,107.5 L742.9,107.5 L744.9,107.6 L746.9,107.7 L748.9,107.8 L750.9,107.8 L752.9,107.9 L754.9,108.0 L756.9,108.0 L759.0,108.1 L761.0,108.1 L763.0,108.2 L765.0,108.3 L767.0,108.3 L769.0,108.4 L771.0,108.4 L773.0,108.5 L775.0,108.5 L777.0,108.6 L779.0,108.6 L781.0,108.7 L783.0,108.7 L785.0,108.8 L787.0,108.8 L787.8,108.8 L789.0,108.8 L791.0,108.9 L793.0,108.9 L795.0,109.0 L797.0,109.0 L799.0,109.0 L801.0,109.1 L803.0,109.1 L805.0,109.1 L807.0,109.2 L809.0,109.2 L811.0,109.2 L813.0,109.2 L815.0,109.3 L817.0,109.3 L819.0,109.3 L821.0,109.4 L823.0,109.4 L825.0,109.4 L827.0,109.5 L828.1,109.5 L829.0,109.5 L831.0,109.6 L833.0,109.6 L835.0,109.6 L837.0,109.7 L839.0,109.7 L841.0,109.8 L843.0,109.8 L845.0,109.8 L847.0,109.9 L849.0,109.9 L851.0,110.0 L853.0,110.0 L855.0,110.1 L857.1,110.1 L859.1,110.2 L861.1,110.2 L863.1,110.3 L865.1,110.3 L867.1,110.4 L868.4,110.4 L869.1,110.4 L871.1,110.5 L873.1,110.6 L875.1,110.7 L877.1,110.7 L879.1,110.8 L881.1,110.9 L883.1,111.0 L885.1,111.1 L887.1,111.2 L889.1,111.3 L891.1,111.4 L893.1,111.5 L895.1,111.6 L897.1,111.7 L899.1,111.8 L901.1,112.0 L903.1,112.1 L905.1,112.2 L907.1,112.3 L908.7,112.4 L909.1,112.4 L911.1,112.5 L913.1,112.6 L915.1,112.7 L917.1,112.8 L919.1,113.0 L921.1,113.1 L923.1,113.2 L925.1,113.3 L927.1,113.4 L929.1,113.6 L931.1,113.7 L933.1,113.8 L935.1,113.9 L937.1,114.1 L939.1,114.2 L941.1,114.4 L943.1,114.5 L944.8,114.6 L945.1,114.6 L947.1,114.8 L949.1,114.9 L951.1,115.1 L953.1,115.3 L955.2,115.4 L957.2,115.6 L959.2,115.8 L961.2,115.9 L963.2,116.1 L965.2,116.3 L967.2,116.5 L969.2,116.7 L971.2,116.9 L973.2,117.1 L975.2,117.2 L977.2,117.4 L979.2,117.6 L981.2,117.8 L983.2,118.0 L985.0,118.2 L985.2,118.3 L987.2,118.5 L989.2,118.7 L991.2,118.9 L993.2,119.1 L995.2,119.3 L997.2,119.5 L999.2,119.8 L1001.2,120.0 L1003.2,120.2 L1005.2,120.5 L1007.2,120.7 L1009.2,121.0 L1011.2,121.2 L1013.2,121.5 L1015.2,121.7 L1017.2,122.0 L1019.2,122.3 L1021.2,122.5 L1023.2,122.8 L1025.2,123.1 L1025.4,123.1 L1027.2,123.4 L1029.2,123.7 L1031.2,124.0 L1033.2,124.4 L1035.2,124.7 L1037.2,125.0 L1039.2,125.4 L1041.2,125.7 L1043.2,126.1 L1045.2,126.5 L1047.2,126.9 L1049.2,127.2 L1051.2,127.6 L1053.3,128.0 L1055.3,128.4 L1057.3,128.8 L1059.3,129.2 L1061.3,129.6 L1063.3,130.0 L1065.3,130.5 L1065.6,130.5 L1067.3,130.9 L1069.3,131.3 L1071.3,131.8 L1073.3,132.2 L1075.3,132.7 L1077.3,133.1 L1079.3,133.6 L1081.3,134.1 L1083.3,134.6 L1085.3,135.1 L1087.3,135.6 L1089.3,136.1 L1089.8,136.2 L1091.3,136.6 L1093.3,137.1 L1095.3,137.7 L1097.3,138.2 L1099.3,138.8 L1101.3,139.4 L1103.3,139.9 L1105.3,140.5 L1107.3,141.1 L1109.3,141.7 L1111.3,142.3 L1113.3,142.8 L1115.3,143.4 L1117.3,144.0 L1119.3,144.6 L1120.0,144.8 L1121.3,145.2 L1123.3,145.8 L1125.3,146.3 L1127.3,146.9 L1129.3,147.5 L1131.3,148.1 L1133.3,148.7 L1135.3,149.3 L1137.3,149.9 L1139.3,150.5 L1140.7,150.9 L1141.3,151.1 L1143.3,151.7 L1145.3,152.4 L1147.3,153.0 L1149.3,153.6 L1151.4,154.2 L1153.4,154.9 L1155.4,155.5 L1157.4,156.2 L1159.4,156.8 L1161.4,157.5 L1163.4,158.2 L1165.4,158.8 L1167.4,159.5 L1169.4,160.2 L1171.4,161.0 L1173.4,161.7 L1175.4,162.4 L1177.4,163.2 L1179.4,164.0 L1181.4,164.8 L1181.5,164.8 L1183.4,165.6 L1185.4,166.4 L1187.4,167.3 L1189.4,168.3 L1191.4,169.2 L1193.4,170.2 L1195.4,171.2 L1197.4,172.1 L1199.4,173.1 L1201.4,174.1 L1201.8,174.3 L1203.4,175.1 L1205.4,176.1 L1207.4,177.1 L1209.4,178.1 L1211.4,179.1 L1213.4,180.1 L1215.4,181.1 L1217.4,182.1 L1219.4,183.1 L1221.4,184.1 L1222.2,184.5 L1223.4,185.1 L1225.4,186.1 L1227.4,187.2 L1229.4,188.2 L1231.4,189.2 L1233.4,190.3 L1235.4,191.3 L1237.4,192.3 L1239.4,193.2 L1241.4,194.2 L1242.6,194.7 L1243.4,195.1 L1245.4,196.0 L1247.4,196.9 L1249.5,197.8 L1251.5,198.6 L1253.5,199.5 L1255.5,200.3 L1257.5,201.1 L1259.5,201.8 L1261.5,202.4 L1263.0,202.9 L1263.5,203.0 L1265.5,203.6 L1267.5,204.1 L1269.5,204.7 L1271.5,205.1 L1273.5,205.6 L1275.5,206.0 L1277.5,206.5 L1279.5,206.8 L1281.5,207.2 L1283.3,207.5 L1283.5,207.5 L1285.5,207.8 L1287.5,208.1 L1289.5,208.4 L1291.5,208.7 L1293.5,208.9 L1295.5,209.1 L1297.5,209.4 L1299.5,209.6 L1301.5,209.8 L1303.5,210.0 L1303.7,210.0 L1305.5,210.2 L1307.5,210.3 L1309.5,210.5 L1311.5,210.7 L1313.5,210.8 L1315.5,211.0 L1317.5,211.1 L1319.5,211.3 L1321.5,211.4 L1323.5,211.6 L1325.5,211.7 L1327.5,211.8 L1329.5,212.0 L1331.5,212.1 L1333.5,212.2 L1335.5,212.4 L1337.5,212.5 L1339.5,212.6 L1341.5,212.8 L1343.5,212.9 L1344.4,213.0 L1345.5,213.1 L1347.6,213.2 L1349.6,213.4 L1351.6,213.5 L1353.6,213.7 L1355.6,213.8 L1357.6,214.0 L1359.6,214.1 L1361.6,214.3 L1363.6,214.4 L1365.6,214.6 L1367.6,214.7 L1369.6,214.9 L1371.6,215.0 L1373.6,215.2 L1375.6,215.3 L1377.6,215.5 L1379.6,215.6 L1381.6,215.8 L1383.6,216.0 L1385.2,216.1 L1385.6,216.1 L1387.6,216.3 L1389.6,216.5 L1391.6,216.7 L1393.6,216.8 L1395.6,217.0 L1397.6,217.2 L1399.6,217.4 L1401.6,217.6 L1403.6,217.8 L1405.6,218.0 L1407.6,218.2 L1409.6,218.4 L1411.6,218.6 L1413.6,218.8 L1415.6,219.0 L1417.6,219.2 L1419.6,219.4 L1421.6,219.7 L1423.6,219.9 L1425.6,220.1 L1427.6,220.3 L1429.6,220.5 L1431.6,220.7 L1433.6,220.9 L1435.6,221.1 L1437.6,221.3 L1439.6,221.5 L1441.6,221.7 L1443.6,221.9 L1445.7,222.1 L1446.3,222.2 L1447.7,222.3 L1449.7,222.5 L1451.7,222.7 L1453.7,222.9 L1455.7,223.1 L1457.7,223.3 L1459.7,223.5 L1461.7,223.7 L1463.7,223.9 L1465.7,224.0 L1467.7,224.2 L1469.7,224.4 L1471.7,224.6 L1473.7,224.8 L1475.7,225.0 L1477.7,225.2 L1479.7,225.4 L1481.7,225.6 L1483.7,225.8 L1485.7,226.0 L1487.7,226.2 L1489.7,226.4 L1491.7,226.6 L1493.7,226.9 L1495.7,227.1 L1496.6,227.2 L1497.7,227.3 L1499.7,227.6 L1501.7,227.8 L1503.7,228.1 L1505.7,228.3 L1507.7,228.6 L1509.7,228.9 L1511.7,229.1 L1513.7,229.4 L1515.7,229.7 L1517.7,230.0 L1519.7,230.3 L1521.7,230.6 L1523.7,230.9 L1525.7,231.2 L1527.7,231.5 L1529.7,231.8 L1531.7,232.1 L1533.7,232.5 L1535.7,232.8 L1537.7,233.1 L1539.7,233.4 L1540.7,233.6 L1541.7,233.8 L1543.8,234.1 L1545.8,234.5 L1547.8,234.8 L1549.8,235.2 L1551.8,235.5 L1553.8,235.9 L1555.8,236.3 L1557.8,236.7 L1559.8,237.1 L1561.8,237.5 L1563.8,237.9 L1565.8,238.3 L1567.8,238.7 L1569.8,239.1 L1571.8,239.5 L1573.8,239.9 L1575.8,240.3 L1577.8,240.7 L1579.8,241.1 L1581.5,241.5 L1581.8,241.6 L1583.8,242.0 L1585.8,242.4 L1587.8,242.8 L1589.8,243.3 L1591.8,243.7 L1593.8,244.1 L1595.8,244.6 L1597.8,245.0 L1599.8,245.4 L1601.8,245.9 L1603.8,246.4 L1605.8,246.8 L1607.8,247.3 L1609.8,247.7 L1611.8,248.2 L1613.8,248.7 L1615.8,249.2 L1617.8,249.7 L1619.8,250.2 L1621.8,250.7 L1622.2,250.8 L1623.8,251.2 L1625.8,251.8 L1627.8,252.3 L1629.8,252.8 L1631.8,253.4 L1633.8,254.0 L1635.8,254.5 L1637.8,255.1 L1639.8,255.7 L1641.9,256.3 L1643.9,256.9 L1645.9,257.5 L1647.9,258.1 L1649.9,258.7 L1651.9,259.4 L1653.9,260.0 L1655.9,260.6 L1657.9,261.2 L1659.9,261.8 L1661.9,262.5 L1663.0,262.8 L1663.9,263.1 L1665.9,263.7 L1667.9,264.3 L1669.9,264.9 L1671.9,265.6 L1673.9,266.2 L1675.9,266.8 L1677.9,267.4 L1679.9,268.1 L1681.9,268.7 L1683.9,269.4 L1685.9,270.0 L1687.9,270.7 L1689.9,271.3 L1691.9,272.0 L1693.9,272.7 L1695.9,273.4 L1697.9,274.1 L1699.9,274.8 L1701.9,275.5 L1703.7,276.1 L1703.9,276.2 L1705.9,276.9 L1707.9,277.6 L1709.9,278.4 L1711.9,279.1 L1713.9,279.9 L1715.9,280.7 L1717.9,281.4 L1719.9,282.2 L1721.9,283.0 L1723.9,283.8 L1725.9,284.6 L1727.9,285.5 L1729.9,286.3 L1731.9,287.1 L1733.9,287.9 L1735.9,288.8 L1737.9,289.6 L1740.0,290.5 L1742.0,291.3 L1744.0,292.2 L1744.4,292.4 L1746.0,293.1 L1748.0,294.0 L1750.0,294.9 L1752.0,295.8 L1754.0,296.7 L1756.0,297.7 L1758.0,298.7 L1760.0,299.6 L1762.0,300.6 L1764.0,301.6 L1766.0,302.5 L1768.0,303.5 L1770.0,304.5 L1772.0,305.5 L1774.0,306.4 L1776.0,307.4 L1778.0,308.4 L1780.0,309.3 L1782.0,310.2 L1784.0,311.2 L1785.2,311.7 L1786.0,312.1 L1788.0,313.0 L1790.0,313.9 L1792.0,314.8 L1794.0,315.7 L1796.0,316.6 L1798.0,317.5 L1800.0,318.4 L1802.0,319.2 L1804.0,320.1 L1806.0,321.0 L1808.0,321.9 L1810.0,322.7 L1812.0,323.6 L1814.0,324.4 L1816.0,325.2 L1818.0,326.0 L1820.0,326.8 L1822.0,327.6 L1824.0,328.4 L1825.9,329.1 L1826.0,329.2 L1828.0,329.9 L1830.0,330.6 L1832.0,331.4 L1834.0,332.1 L1836.0,332.8 L1838.1,333.5 L1840.1,334.2 L1842.1,334.8 L1844.1,335.5 L1846.1,336.2 L1848.1,336.8 L1850.1,337.5 L1852.1,338.1 L1854.1,338.7 L1856.1,339.4 L1858.1,340.0 L1860.1,340.6 L1862.1,341.1 L1863.7,341.6 L1864.1,341.7 L1866.1,342.3 L1868.1,342.8 L1870.1,343.4 L1872.1,343.9 L1874.1,344.4 L1876.1,344.9 L1878.1,345.5 L1880.1,346.0 L1882.1,346.5 L1884.1,346.9 L1886.1,347.4 L1888.1,347.9 L1890.1,348.4 L1892.1,348.8 L1894.1,349.3 L1896.1,349.7 L1897.7,350.1 L1898.1,350.2 L1900.1,350.6 L1902.1,351.1 L1904.1,351.5 L1906.1,351.9 L1908.1,352.4 L1910.1,352.8 L1912.1,353.2 L1914.1,353.6 L1916.1,354.0 L1918.1,354.4 L1920.1,354.8 L1922.1,355.2 L1924.1,355.6 L1926.1,355.9 L1928.1,356.3 L1930.1,356.6 L1931.6,356.9 L1932.1,357.0 L1934.1,357.3 L1936.2,357.7 L1938.2,358.0 L1940.2,358.3 L1942.2,358.6 L1944.2,358.9 L1946.2,359.2 L1948.2,359.5 L1950.2,359.8 L1952.2,360.1 L1954.2,360.4 L1956.2,360.7 L1958.2,361.0 L1960.2,361.2 L1962.2,361.5 L1964.2,361.8 L1966.2,362.1 L1968.2,362.4 L1970.2,362.6 L1972.2,362.9 L1974.2,363.2 L1976.2,363.5 L1978.2,363.8 L1980.2,364.1 L1981.0,364.2 L1982.2,364.4 L1984.2,364.7" stroke="#ff00ff"/>
<polygon points="319.3,76 322.8,76 321.6,100 320.3,126 319.3,126" fill="#808000"/>
<path d="M316.5,74.6 L318.5,74.6 L320.5,74.6 L322.5,74.6 L324.5,74.6 L326.5,74.6 L328.5,74.6 L330.5,74.6 L332.5,74.6 L334.5,74.6 L336.5,74.6 L338.5,74.6 L340.5,74.6 L341.2,74.6 L342.5,74.6 L344.5,74.6 L346.5,74.6 L348.5,74.6 L350.5,74.6 L352.5,74.6 L354.5,74.6 L356.5,74.6 L358.5,74.6 L360.5,74.6 L362.5,74.6 L364.5,74.6 L366.6,74.6 L368.6,74.6 L370.6,74.6 L372.6,74.6 L374.6,74.6 L376.6,74.6 L378.6,74.6 L380.6,74.6 L382.6,74.6 L384.6,74.6 L386.6,74.6 L388.6,74.6 L390.6,74.6 L392.6,74.6 L394.6,74.6 L396.6,74.7 L398.6,74.7 L400.6,74.7 L402.6,74.7 L404.6,74.7 L406.6,74.7 L408.6,74.7 L410.6,74.7 L412.6,74.7 L414.6,74.7 L416.0,74.7 L416.6,74.7 L418.6,74.7 L420.6,74.7 L422.6,74.8 L424.6,74.8 L426.6,74.8 L428.6,74.8 L430.6,74.8 L432.6,74.8 L434.6,74.9 L436.6,74.9 L438.6,74.9 L440.6,74.9 L442.6,75.0 L444.6,75.0 L446.6,75.0 L448.6,75.0 L450.6,75.1 L452.6,75.1 L454.6,75.1 L456.6,75.2 L458.6,75.2 L460.5,75.2 L460.6,75.2 L462.6,75.3 L464.7,75.3 L466.7,75.3 L468.7,75.4 L470.7,75.4 L472.7,75.5 L474.7,75.5 L476.7,75.6 L478.7,75.6 L480.7,75.7 L482.7,75.7 L484.7,75.8 L486.7,75.8 L488.7,75.9 L490.7,75.9 L492.4,75.9 L492.7,75.9 L494.7,76.0 L496.7,76.0 L498.7,76.1 L500.7,76.1 L501.6,76.2 L502.7,76.2 L504.7,76.3 L506.7,76.3 L508.7,76.4 L510.7,76.5 L512.7,76.6 L514.7,76.7 L516.7,76.8 L518.7,77.0 L520.7,77.1 L522.7,77.2 L524.7,77.3 L526.7,77.5 L528.7,77.6 L530.7,77.7 L532.6,77.9 L532.7,77.9 L534.7,78.0 L536.7,78.2 L538.7,78.4 L540.7,78.5 L542.7,78.7 L544.7,78.9 L546.7,79.1 L548.7,79.3 L550.7,79.5 L552.7,79.7 L554.7,80.0 L556.7,80.2 L558.7,80.4 L560.7,80.6 L562.8,80.9 L564.8,81.1 L566.8,81.3 L568.8,81.6 L570.8,81.8 L572.8,82.1 L573.0,82.1 L574.8,82.3 L576.8,82.5 L578.8,82.8 L580.8,83.0 L582.8,83.3 L584.8,83.5 L586.8,83.8 L588.8,84.1 L590.8,84.3 L592.8,84.6 L594.8,84.9 L596.8,85.2 L598.8,85.4 L600.8,85.7 L602.8,86.0 L604.8,86.2 L606.8,86.5 L608.8,86.8 L610.8,87.1 L612.8,87.3 L613.2,87.4 L614.8,87.6 L616.8,87.9 L618.8,88.1 L620.8,88.4 L622.8,88.7 L624.8,88.9 L626.8,89.2 L628.8,89.5 L630.8,89.7 L632.8,90.0 L634.8,90.3 L636.8,90.6 L638.8,90.8 L640.8,91.1 L642.8,91.4 L644.8,91.6 L646.8,91.9 L648.8,92.2 L650.8,92.4 L652.8,92.7 L654.8,92.9 L656.8,93.2 L658.8,93.4 L660.9,93.7 L661.9,93.8 L662.9,93.9 L664.9,94.2 L666.9,94.4 L668.9,94.7 L670.9,94.9 L672.9,95.1 L674.9,95.4 L676.9,95.6 L678.9,95.8 L680.9,96.1 L682.9,96.3 L684.9,96.5 L686.9,96.8 L688.9,97.0 L690.9,97.2 L692.9,97.5 L694.9,97.7 L696.9,97.9 L698.9,98.2 L700.9,98.4 L702.2,98.6 L702.9,98.7 L704.9,98.9 L706.9,99.2 L708.9,99.4 L710.9,99.7 L712.9,99.9 L714.9,100.2 L716.9,100.4 L718.9,100.7 L720.9,101.0 L722.9,101.2 L724.9,101.5 L726.9,101.7 L728.9,102.0 L730.9,102.3 L732.9,102.5 L734.9,102.8 L736.9,103.0 L738.9,103.3 L740.9,103.6 L742.5,103.8 L742.9,103.8 L744.9,104.1 L746.9,104.4 L748.9,104.6 L750.9,104.9 L752.9,105.1 L754.9,105.4 L756.9,105.7 L759.0,105.9 L761.0,106.2 L763.0,106.5 L765.0,106.7 L767.0,107.0 L769.0,107.2 L771.0,107.5 L773.0,107.8 L775.0,108.0 L777.0,108.3 L779.0,108.6 L781.0,108.9 L783.0,109.1 L785.0,109.4 L787.0,109.7 L787.8,109.8 L789.0,110.0 L791.0,110.3 L793.0,110.6 L795.0,110.9 L797.0,111.2 L799.0,111.5 L801.0,111.8 L803.0,112.1 L805.0,112.4 L807.0,112.7 L809.0,113.0 L811.0,113.3 L813.0,113.6 L815.0,113.9 L817.0,114.2 L819.0,114.6 L821.0,114.9 L823.0,115.2 L825.0,115.5 L827.0,115.9 L828.1,116.0 L829.0,116.2 L831.0,116.5 L833.0,116.8 L835.0,117.2 L837.0,117.5 L839.0,117.8 L841.0,118.2 L843.0,118.5 L845.0,118.9 L847.0,119.2 L849.0,119.6 L851.0,119.9 L853.0,120.3 L855.0,120.6 L857.1,121.0 L859.1,121.4 L861.1,121.7 L863.1,122.1 L865.1,122.5 L867.1,122.9 L868.4,123.1 L869.1,123.3 L871.1,123.7 L873.1,124.1 L875.1,124.5 L877.1,124.9 L879.1,125.3 L881.1,125.7 L883.1,126.2 L885.1,126.6 L887.1,127.1 L889.1,127.5 L891.1,127.9 L893.1,128.4 L895.1,128.8 L897.1,129.3 L898.6,129.6 L899.1,129.7 L901.1,130.2 L903.1,130.6 L905.1,131.1 L907.1,131.6 L909.1,132.0 L911.1,132.5 L913.1,133.0 L915.1,133.4 L917.1,133.9 L919.1,134.4 L921.1,134.9 L923.1,135.3 L925.1,135.8 L927.1,136.3 L929.1,136.8 L931.1,137.2 L933.1,137.7 L935.1,138.2 L937.1,138.6 L938.9,139.0 L939.1,139.1 L941.1,139.5 L943.1,140.0 L945.1,140.5 L947.1,140.9 L949.1,141.4 L951.1,141.8 L953.1,142.2 L955.2,142.7 L957.2,143.1 L959.2,143.6 L961.2,144.0 L963.2,144.5 L965.2,144.9 L967.2,145.4 L969.2,145.8 L971.2,146.2 L973.2,146.7 L975.2,147.1 L977.2,147.6 L979.2,148.0 L979.2,148.0 L981.2,148.4 L983.2,148.9 L985.2,149.3 L987.2,149.8 L989.2,150.2 L991.2,150.7 L993.2,151.1 L995.2,151.5 L997.2,152.0 L999.2,152.4 L1001.2,152.9 L1003.2,153.3 L1005.2,153.7 L1007.2,154.2 L1009.2,154.6 L1011.2,155.1 L1013.2,155.5 L1015.2,155.9 L1017.2,156.4 L1019.2,156.8 L1019.5,156.9 L1021.2,157.2 L1023.2,157.7 L1025.2,158.1 L1027.2,158.5 L1029.2,159.0 L1031.2,159.4 L1033.2,159.8 L1035.2,160.3 L1037.2,160.7 L1039.2,161.1 L1041.2,161.5 L1043.2,162.0 L1045.2,162.4 L1047.2,162.8 L1049.2,163.3 L1051.2,163.7 L1053.3,164.1 L1055.3,164.6 L1056.6,164.9 L1057.3,165.0 L1059.3,165.5 L1061.3,165.9 L1063.3,166.3 L1065.3,166.8 L1067.3,167.2 L1069.3,167.7 L1071.3,168.1 L1073.3,168.6 L1073.3,168.6 L1075.3,169.1 L1077.3,169.6 L1079.3,170.0 L1081.3,170.5 L1083.3,171.0 L1085.3,171.5 L1087.3,172.0 L1089.3,172.6 L1091.2,173.1 L1091.3,173.1 L1093.3,173.7 L1095.3,174.3 L1097.3,174.9 L1099.3,175.5 L1101.3,176.2 L1103.3,176.8 L1105.3,177.5 L1107.3,178.2 L1109.3,178.9 L1111.3,179.5 L1113.3,180.2 L1115.3,180.8 L1117.3,181.5 L1119.3,182.1 L1120.0,182.3 L1121.3,182.7 L1123.3,183.3 L1125.3,183.9 L1127.3,184.5 L1129.3,185.0 L1131.3,185.6 L1133.3,186.2 L1135.3,186.7 L1137.3,187.3 L1139.3,187.8 L1140.0,188.0 L1141.3,188.4 L1143.3,188.9 L1145.3,189.4 L1147.3,189.9 L1149.3,190.4 L1151.4,190.9 L1153.4,191.5 L1155.4,192.0 L1157.4,192.4 L1159.4,192.9 L1161.4,193.4 L1163.4,193.9 L1165.4,194.4 L1167.4,194.9 L1169.4,195.4 L1171.4,195.8 L1173.4,196.3 L1175.4,196.8 L1177.4,197.3 L1179.4,197.8 L1181.4,198.3 L1183.4,198.8 L1185.4,199.2 L1187.4,199.7 L1189.4,200.2 L1191.4,200.7 L1193.4,201.2 L1195.4,201.8 L1197.4,202.3 L1198.3,202.5 L1199.4,202.8 L1201.4,203.3 L1203.4,203.9 L1205.4,204.4 L1207.4,204.9 L1209.4,205.5 L1211.4,206.0 L1213.4,206.6 L1215.4,207.2 L1217.4,207.7 L1219.4,208.3 L1221.4,208.8 L1223.4,209.4 L1225.4,209.9 L1227.4,210.5 L1229.4,211.0 L1231.4,211.6 L1233.4,212.1 L1235.4,212.6 L1237.4,213.2 L1239.4,213.7 L1240.0,213.8 L1241.4,214.2 L1243.4,214.6 L1245.4,215.1 L1247.4,215.6 L1249.5,216.1 L1251.5,216.5 L1253.5,217.0 L1255.5,217.4 L1256.6,217.7 L1257.5,217.9 L1259.5,218.3 L1261.5,218.8 L1263.5,219.2 L1265.5,219.6 L1267.5,220.1 L1269.5,220.5 L1271.5,220.9 L1273.5,221.3 L1275.5,221.8 L1277.5,222.2 L1279.5,222.6 L1281.5,223.0 L1283.5,223.4 L1285.5,223.8 L1287.5,224.2 L1289.5,224.6 L1291.5,225.0 L1293.5,225.4 L1295.5,225.8 L1297.5,226.2 L1299.5,226.6 L1301.5,226.9 L1303.5,227.3 L1305.5,227.7 L1307.5,228.0 L1309.5,228.4 L1311.5,228.7 L1313.5,229.1 L1314.8,229.3 L1315.5,229.4 L1317.5,229.8 L1319.5,230.1 L1321.5,230.4 L1323.5,230.8 L1325.5,231.1 L1327.5,231.4 L1329.5,231.7 L1331.5,232.0 L1333.5,232.4 L1335.5,232.7 L1337.5,233.0 L1339.5,233.3 L1341.5,233.6 L1343.5,233.9 L1345.5,234.2 L1347.6,234.5 L1349.6,234.8 L1351.6,235.1 L1353.6,235.3 L1355.6,235.6 L1357.6,235.9 L1359.6,236.2 L1361.6,236.5 L1363.6,236.7 L1365.6,237.0 L1367.6,237.3 L1369.6,237.6 L1371.6,237.8 L1373.6,238.1 L1375.6,238.3 L1377.6,238.6 L1379.6,238.8 L1380.0,238.9 L1381.6,239.1 L1383.6,239.3 L1385.6,239.6 L1387.6,239.8 L1389.6,240.1 L1391.6,240.3 L1393.6,240.5 L1395.6,240.8 L1397.6,241.0 L1399.6,241.2 L1401.6,241.4 L1403.6,241.6 L1405.6,241.8 L1407.6,242.1 L1409.6,242.3 L1411.6,242.5 L1413.6,242.7 L1415.6,242.9 L1417.6,243.1 L1419.6,243.3 L1421.6,243.5 L1423.6,243.7 L1425.6,243.9 L1427.6,244.1 L1429.6,244.3 L1431.6,244.5 L1433.6,244.8 L1435.6,245.0 L1437.6,245.2 L1439.6,245.4 L1441.6,245.6 L1443.6,245.8 L1445.7,246.0 L1447.7,246.2 L1449.7,246.4 L1451.7,246.7 L1453.7,246.9 L1455.7,247.1 L1457.7,247.3 L1459.7,247.6 L1461.6,247.8 L1461.7,247.8 L1463.7,248.1 L1465.7,248.4 L1467.7,248.7 L1469.7,249.0 L1471.7,249.3 L1473.7,249.4 L1474.5,249.4 L1475.7,248.9 L1477.5,247.8 L1477.7,247.8 L1479.7,250.6 L1480.5,251.6 L1481.7,252.2 L1483.7,253.0 L1485.7,253.6 L1487.0,254.0 L1487.7,254.3 L1489.7,255.0 L1491.7,255.7 L1493.7,256.5 L1495.7,257.1 L1496.6,257.4 L1497.7,257.7 L1499.7,258.3 L1501.7,258.8 L1503.7,259.3 L1505.7,259.7 L1507.7,260.2 L1509.7,260.6 L1511.7,261.1 L1513.7,261.5 L1515.7,262.0 L1517.7,262.4 L1519.7,262.9 L1520.0,263.0 L1521.7,263.4 L1523.7,264.0 L1525.7,264.5 L1527.7,265.0 L1529.7,265.6 L1531.7,266.1 L1533.7,266.7 L1535.7,267.2 L1537.7,267.8 L1539.7,268.4 L1541.7,269.0 L1543.8,269.5 L1545.8,270.1 L1547.8,270.7 L1549.8,271.3 L1551.8,272.0 L1553.8,272.6 L1554.8,272.9 L1555.8,273.2 L1557.8,273.8 L1559.8,274.5 L1561.8,275.1 L1563.8,275.8 L1565.8,276.5 L1567.8,277.2 L1569.8,277.9 L1571.8,278.6 L1573.8,279.3 L1575.8,280.0 L1577.8,280.8 L1579.8,281.5 L1581.5,282.2 L1581.8,282.3 L1583.8,283.1 L1585.8,283.9 L1587.8,284.8 L1589.8,285.6 L1591.8,286.5 L1593.8,287.4 L1595.8,288.3 L1597.8,289.2 L1599.8,290.2 L1601.8,291.1 L1603.8,292.0 L1605.8,293.0 L1607.8,293.9 L1609.8,294.8 L1611.8,295.8 L1613.8,296.7 L1615.8,297.6 L1617.8,298.5 L1619.8,299.5 L1621.8,300.3 L1622.2,300.5 L1623.8,301.2 L1625.8,302.1 L1627.8,303.0 L1629.8,303.9 L1631.8,304.8 L1633.8,305.7 L1635.8,306.6 L1637.8,307.5 L1639.8,308.3 L1641.9,309.2 L1643.9,310.1 L1645.9,311.0 L1647.9,311.8 L1649.9,312.7 L1651.9,313.5 L1653.9,314.3 L1655.9,315.2 L1657.9,315.9 L1659.9,316.7 L1661.9,317.5 L1663.0,317.9 L1663.9,318.2 L1665.9,319.0 L1667.9,319.7 L1669.9,320.4 L1671.9,321.1 L1673.9,321.8 L1675.9,322.5 L1677.9,323.2 L1679.9,323.9 L1681.9,324.5 L1683.9,325.2 L1685.9,325.8 L1687.9,326.5 L1689.9,327.1 L1691.9,327.7 L1693.9,328.3 L1695.9,328.9 L1697.9,329.5 L1699.9,330.1 L1701.9,330.6 L1703.7,331.1 L1703.9,331.2 L1705.9,331.7 L1707.9,332.2 L1709.9,332.7 L1711.9,333.2 L1713.9,333.7 L1715.9,334.1 L1717.9,334.6 L1719.9,335.1 L1721.9,335.5 L1723.9,336.0 L1725.9,336.4 L1727.9,336.8 L1729.9,337.3 L1731.9,337.7 L1733.9,338.1 L1735.9,338.5 L1737.9,338.9 L1740.0,339.4 L1742.0,339.8 L1744.0,340.2 L1744.4,340.3 L1746.0,340.6 L1748.0,341.0 L1750.0,341.5 L1752.0,341.9 L1754.0,342.3 L1756.0,342.7 L1758.0,343.1 L1760.0,343.4 L1762.0,343.8 L1764.0,344.2 L1766.0,344.6 L1768.0,345.0 L1770.0,345.4 L1772.0,345.8 L1774.0,346.2 L1776.0,346.6 L1778.0,347.0 L1780.0,347.4 L1782.0,347.8 L1784.0,348.2 L1785.2,348.4 L1786.0,348.6 L1788.0,349.0 L1790.0,349.4 L1792.0,349.8 L1794.0,350.2 L1796.0,350.6 L1798.0,351.1 L1800.0,351.5 L1802.0,351.9 L1804.0,352.3 L1806.0,352.8 L1808.0,353.2 L1810.0,353.6 L1812.0,354.1 L1814.0,354.5 L1816.0,354.9 L1818.0,355.3 L1820.0,355.7 L1822.0,356.1 L1824.0,356.6 L1826.0,357.0 L1828.0,357.4 L1829.7,357.7 L1830.0,357.8 L1832.0,358.2 L1834.0,358.6 L1836.0,358.9 L1838.1,359.3 L1840.1,359.7 L1842.1,360.1 L1844.1,360.4 L1846.1,360.8 L1848.1,361.2 L1850.1,361.6 L1852.1,361.9 L1854.1,362.3 L1856.1,362.6 L1858.1,363.0 L1860.1,363.4 L1862.1,363.7 L1864.1,364.1 L1866.1,364.4 L1868.1,364.8 L1870.1,365.2 L1872.1,365.5 L1874.1,365.9 L1876.1,366.3 L1878.1,366.6 L1880.1,367.0 L1882.1,367.4 L1884.1,367.8 L1886.1,368.1 L1888.1,368.5 L1890.1,368.9 L1892.1,369.3 L1894.1,369.7 L1896.1,370.1 L1897.7,370.4 L1898.1,370.5 L1900.1,370.9 L1902.1,371.3 L1904.1,371.7 L1906.1,372.1 L1908.1,372.5 L1910.1,372.9 L1912.1,373.4 L1914.1,373.8 L1916.1,374.2 L1918.1,374.6 L1920.1,375.1 L1922.1,375.5 L1924.1,375.9 L1926.1,376.4 L1928.1,376.8 L1930.1,377.2 L1932.1,377.7 L1934.1,378.1 L1936.2,378.6 L1938.2,379.1 L1940.2,379.5 L1942.2,380.0 L1944.2,380.4 L1946.2,380.9 L1948.2,381.4 L1948.6,381.5 L1950.2,381.9 L1952.2,382.4 L1954.2,382.9 L1956.2,383.4 L1958.2,383.9 L1960.2,384.4 L1962.2,385.0 L1964.2,385.5 L1966.2,386.0 L1968.2,386.6 L1970.2,387.1 L1972.2,387.6 L1974.2,388.2 L1976.2,388.7 L1978.2,389.3 L1980.2,389.8 L1981.0,390.0 L1982.2,390.3 L1984.2,390.8" stroke="#808000"/>
</g>
<g fill="none" stroke-width="5" stroke-linejoin="round" clip-path="url(#ci)" shape-rendering="crispEdges">
<path d="M516.3,491.5 L518.3,491.5 L520.3,491.4 L522.3,491.4 L524.3,491.4 L526.3,491.4 L528.3,491.3 L530.3,491.3 L532.3,491.3 L534.3,491.3 L536.3,491.2 L538.3,491.2 L540.3,491.2 L542.3,491.2 L544.3,491.2 L546.3,491.2 L548.3,491.1 L550.3,491.1 L552.3,491.1 L554.3,491.1 L556.3,491.1 L558.4,491.1 L560.4,491.1 L562.4,491.1 L564.4,491.0 L566.4,491.0 L568.4,491.0 L570.4,491.0 L572.4,491.0 L574.4,491.0 L576.4,491.0 L578.4,491.0 L580.4,491.0 L582.4,491.0 L584.4,491.0 L586.4,491.0 L587.0,491.0 L588.4,491.0 L590.4,491.0 L592.4,491.0 L594.4,491.0 L596.4,491.0 L598.4,491.0 L600.4,491.0 L602.4,491.0 L604.4,491.1 L606.4,491.1 L608.4,491.1 L610.4,491.1 L612.4,491.1 L614.4,491.1 L616.4,491.1 L618.4,491.2 L620.4,491.2 L622.4,491.2 L624.4,491.2 L626.4,491.2 L628.4,491.3 L630.4,491.3 L632.4,491.3 L634.4,491.3 L636.4,491.4 L638.4,491.4 L640.4,491.4 L642.5,491.5 L644.5,491.5 L645.5,491.5 L646.5,491.5 L648.5,491.6 L650.5,491.6 L652.5,491.7 L654.5,491.7 L656.5,491.8 L658.5,491.9 L660.5,491.9 L662.5,492.0 L664.5,492.1 L666.5,492.2 L668.5,492.3 L670.5,492.4 L672.5,492.5 L674.5,492.7 L676.5,492.8 L678.5,492.9 L680.5,493.0 L682.5,493.2 L684.5,493.3 L686.5,493.4 L688.5,493.6 L690.5,493.7 L692.5,493.9 L694.5,494.0 L696.5,494.2 L698.5,494.3 L700.5,494.5 L702.5,494.6 L703.7,494.7 L704.5,494.8 L706.5,494.9 L708.5,495.1 L710.5,495.3 L712.5,495.5 L714.5,495.7 L716.5,495.9 L718.5,496.2 L720.5,496.4 L722.5,496.6 L724.5,496.9 L726.6,497.1 L728.6,497.4 L730.6,497.6 L732.6,497.8 L734.6,498.1 L736.6,498.3 L738.6,498.5 L740.6,498.7 L741.1,498.8 L742.6,499.0 L744.6,499.1 L746.6,499.3 L748.6,499.5 L750.6,499.7 L752.6,499.9 L754.6,500.1 L756.6,500.3 L758.6,500.5 L760.6,500.7 L762.6,500.9 L764.6,501.1 L766.6,501.3 L767.3,501.4 L768.6,501.6 L770.6,501.8 L772.6,502.0 L774.6,502.3 L776.6,502.6 L778.6,502.8 L780.6,503.1 L782.6,503.4 L784.6,503.7 L786.6,503.9 L788.6,504.2 L790.6,504.5 L792.6,504.8 L794.6,505.2 L796.6,505.5 L798.6,505.8 L800.6,506.1 L802.6,506.5 L804.6,506.8 L806.6,507.1 L808.7,507.5 L810.7,507.9 L810.9,507.9 L812.7,508.2 L814.7,508.6 L816.7,509.0 L818.7,509.4 L820.7,509.8 L822.7,510.2 L824.7,510.6 L826.7,511.0 L828.7,511.5 L830.7,511.9 L832.7,512.4 L834.7,512.8 L836.7,513.3 L838.7,513.8 L840.7,514.3 L842.7,514.8 L844.7,515.3 L846.7,515.8 L848.7,516.3 L850.7,516.8 L852.7,517.3 L854.7,517.9 L856.7,518.4 L858.7,518.9 L860.0,519.3 L860.7,519.5 L862.7,520.1 L864.7,520.6 L866.7,521.2 L868.7,521.8 L870.7,522.5 L872.7,523.1 L874.7,523.7 L876.7,524.4 L878.7,525.1 L880.7,525.7 L882.7,526.4 L884.7,527.1 L886.7,527.8 L888.7,528.5 L890.7,529.2 L892.8,530.0 L894.8,530.7 L896.8,531.4 L898.8,532.2 L900.8,532.9 L902.8,533.6 L904.8,534.4 L906.8,535.1 L907.3,535.3 L908.8,535.8 L910.8,536.6 L912.8,537.3 L914.8,538.1 L916.8,538.8 L918.8,539.6 L920.8,540.4 L922.8,541.1 L924.8,541.9 L926.8,542.7 L928.8,543.5 L930.8,544.3 L932.8,545.1 L934.8,545.9 L936.8,546.8 L938.8,547.6 L940.8,548.5 L942.8,549.3 L944.8,550.2 L946.8,551.1 L948.8,552.0 L950.8,553.0 L950.9,553.0 L952.8,553.9 L954.8,554.9 L956.8,555.8 L958.8,556.8 L960.8,557.8 L962.8,558.8 L964.8,559.8 L966.8,560.8 L968.8,561.9 L970.8,563.0 L972.8,564.0 L974.9,565.1 L976.9,566.2 L978.9,567.3 L980.9,568.5 L982.9,569.6 L984.9,570.8 L986.9,572.0 L988.9,573.2 L990.9,574.4 L992.9,575.6 L994.9,576.9 L996.9,578.2 L998.9,579.5 L1000.0,580.2 L1000.9,580.8 L1002.9,582.2 L1004.9,583.6 L1006.9,585.1 L1008.9,586.6 L1010.9,588.2 L1012.9,589.8 L1013.1,590.0 L1014.9,591.5 L1016.9,593.2 L1018.9,594.9 L1020.9,596.7 L1022.9,598.6 L1024.9,600.4 L1026.9,602.3 L1028.9,604.2 L1030.9,606.1 L1032.9,608.0 L1034.9,610.0 L1036.9,611.9 L1038.9,613.9 L1040.9,615.8 L1042.9,617.8 L1043.6,618.4 L1044.9,619.7 L1046.9,621.6 L1048.9,623.5 L1050.9,625.4 L1052.9,627.2 L1054.9,629.1 L1056.9,631.0 L1059.0,632.9 L1061.0,634.8 L1063.0,636.7 L1065.0,638.6 L1067.0,640.5 L1069.0,642.5 L1071.0,644.5 L1073.0,646.5 L1075.0,648.5 L1077.0,650.6 L1079.0,652.7 L1081.0,654.9 L1083.0,657.1 L1085.0,659.3 L1087.0,661.6 L1087.3,662.0 L1089.0,664.0 L1091.0,666.5 L1093.0,669.1 L1095.0,671.7 L1097.0,674.4 L1099.0,677.2 L1101.0,680.0 L1103.0,682.8 L1105.0,685.7 L1107.0,688.5 L1109.0,691.4 L1109.1,691.5 L1111.0,694.2 L1113.0,697.2 L1115.0,700.2 L1117.0,703.1 L1119.0,706.1 L1120.0,707.5 L1121.0,709.0 L1123.0,711.8 L1125.0,714.6 L1127.0,717.4 L1129.0,720.3 L1129.2,720.5 L1131.0,723.2 L1133.0,726.1 L1135.0,729.0 L1137.0,732.0 L1139.0,735.0 L1141.0,738.0 L1143.1,741.0 L1145.1,744.0 L1147.1,747.0 L1149.1,750.1 L1151.1,753.1 L1153.1,756.1 L1154.0,757.5 L1155.1,759.1 L1157.1,762.1 L1159.1,765.1 L1161.1,768.1 L1163.1,771.1 L1165.1,774.2 L1167.1,777.2 L1169.1,780.2 L1171.1,783.2 L1173.1,786.3 L1175.1,789.3 L1177.1,792.3 L1179.1,795.3 L1181.1,798.4 L1183.1,801.4 L1185.1,804.4 L1187.1,807.5 L1189.1,810.5 L1191.1,813.6 L1193.1,816.6 L1195.1,819.7 L1196.0,821.0 L1197.1,822.7 L1199.1,825.7 L1201.1,828.8 L1203.1,831.8 L1205.1,834.8 L1207.1,837.9 L1209.1,840.9 L1211.1,843.9 L1213.1,846.9 L1215.1,850.0 L1217.1,853.0 L1219.1,856.0 L1221.1,859.1 L1223.1,862.1 L1225.2,865.1 L1227.2,868.2 L1229.2,871.3 L1231.2,874.3 L1233.2,877.4 L1235.2,880.5 L1237.2,883.6 L1239.2,886.7 L1241.2,889.8 L1243.2,893.0 L1245.2,896.2 L1247.2,899.3 L1247.6,900.0 L1249.2,902.5 L1251.2,905.8 L1253.2,909.0 L1255.2,912.3 L1257.2,915.6 L1259.2,918.9 L1261.2,922.2 L1263.2,925.6 L1265.2,928.9 L1267.2,932.2 L1269.2,935.6 L1271.2,938.9 L1273.2,942.2 L1275.2,945.6 L1277.2,948.9 L1279.2,952.1 L1280.6,954.4 L1281.2,955.4 L1283.2,958.7 L1285.2,961.9 L1287.2,965.2 L1289.2,968.4 L1291.2,971.6 L1293.2,974.9 L1295.2,978.1 L1297.2,981.3 L1299.2,984.5 L1301.2,987.7 L1303.2,990.8 L1305.2,994.0 L1305.9,995.0 L1307.2,997.1 L1309.3,1000.2 L1311.3,1003.4 L1313.3,1006.5 L1315.3,1009.6 L1317.3,1012.7 L1319.3,1015.8 L1321.3,1018.8 L1323.3,1021.9 L1325.3,1025.0 L1327.3,1028.0 L1329.3,1031.1 L1331.3,1034.1 L1333.3,1037.1 L1335.3,1040.2 L1337.3,1043.2 L1339.3,1046.2 L1341.3,1049.2 L1343.3,1052.1 L1345.3,1055.1 L1347.3,1058.1 L1349.3,1061.0" stroke="#000000"/>
<path d="M516.3,493.0 L518.3,493.0 L520.3,493.0 L522.3,493.0 L524.3,493.0 L526.3,493.0 L528.3,493.0 L530.3,493.0 L532.3,493.0 L534.3,493.0 L536.3,493.0 L538.3,493.0 L540.3,493.0 L542.3,493.0 L544.3,493.0 L546.3,493.0 L548.3,493.0 L550.3,493.0 L552.3,493.0 L554.3,493.0 L556.3,493.0 L558.4,493.0 L560.4,493.0 L562.4,493.0 L564.4,493.0 L566.4,493.0 L568.4,493.0 L570.4,493.0 L572.4,493.0 L574.4,493.0 L576.4,493.0 L578.4,493.0 L580.4,493.0 L582.4,493.0 L584.4,493.0 L586.4,493.0 L587.0,493.0 L588.4,493.0 L590.4,493.0 L592.4,493.0 L594.4,493.0 L596.4,493.0 L598.4,493.0 L600.4,493.0 L602.4,493.0 L604.4,493.1 L606.4,493.1 L608.4,493.1 L610.4,493.1 L612.4,493.1 L614.4,493.1 L616.4,493.1 L618.4,493.2 L620.4,493.2 L622.4,493.2 L624.4,493.2 L626.4,493.3 L628.4,493.3 L630.4,493.3 L632.4,493.3 L634.4,493.3 L636.4,493.4 L638.4,493.4 L640.4,493.4 L642.5,493.5 L644.5,493.5 L645.5,493.5 L646.5,493.5 L648.5,493.5 L650.5,493.6 L652.5,493.6 L654.5,493.7 L656.5,493.7 L658.5,493.8 L660.5,493.8 L662.5,493.9 L664.5,494.0 L666.5,494.0 L668.5,494.1 L670.5,494.2 L672.5,494.3 L674.5,494.4 L676.5,494.5 L678.5,494.5 L680.5,494.7 L682.5,494.8 L684.5,494.9 L686.5,495.0 L688.5,495.1 L690.0,495.2 L690.5,495.2 L692.5,495.4 L694.5,495.6 L696.5,495.8 L698.5,496.1 L700.5,496.3 L702.5,496.6 L703.7,496.8 L704.5,496.9 L706.5,497.2 L708.5,497.6 L710.5,497.9 L712.5,498.3 L714.5,498.7 L716.5,499.1 L718.5,499.5 L720.5,499.9 L722.5,500.4 L724.5,500.8 L726.6,501.3 L728.6,501.8 L730.6,502.3 L732.6,502.9 L734.6,503.5 L736.6,504.0 L738.6,504.6 L740.6,505.3 L742.6,505.9 L744.6,506.6 L746.6,507.2 L747.3,507.5 L748.6,508.0 L750.6,508.8 L752.6,509.8 L754.6,510.8 L756.6,511.9 L758.6,513.0 L760.6,514.2 L762.6,515.4 L764.6,516.5 L766.6,517.6 L767.3,518.0 L768.6,518.7 L770.6,519.8 L772.6,520.8 L774.6,521.9 L776.6,523.0 L778.6,524.1 L780.6,525.2 L782.6,526.3 L784.6,527.4 L786.6,528.5 L788.6,529.6 L790.6,530.7 L792.6,531.7 L794.6,532.8 L796.6,533.9 L798.6,534.9 L800.6,536.0 L802.6,537.0 L804.6,538.1 L806.6,539.1 L808.7,540.1 L810.7,541.1 L810.9,541.2 L812.7,542.1 L814.7,543.0 L816.7,544.0 L818.7,544.9 L820.7,545.9 L822.7,546.8 L824.7,547.8 L826.7,548.7 L828.7,549.6 L830.7,550.6 L832.7,551.5 L834.7,552.4 L836.7,553.3 L838.7,554.2 L840.7,555.1 L842.7,556.0 L844.7,556.8 L846.7,557.7 L848.7,558.6 L850.7,559.4 L852.7,560.3 L854.7,561.1 L856.7,562.0 L858.7,562.8 L860.7,563.6 L862.7,564.4 L863.6,564.8 L864.7,565.3 L866.7,566.1 L868.7,566.9 L870.7,567.6 L872.7,568.4 L874.7,569.2 L876.7,570.0 L878.7,570.7 L880.7,571.5 L882.7,572.3 L884.7,573.0 L886.7,573.7 L888.7,574.5 L890.7,575.2 L892.8,575.9 L894.8,576.6 L896.8,577.3 L898.8,578.0 L900.0,578.4 L900.8,578.7 L902.8,579.3 L904.8,580.0 L906.8,580.6 L908.8,581.3 L910.8,581.9 L912.8,582.5 L914.8,583.1 L916.8,583.7 L918.8,584.3 L920.8,584.9 L922.8,585.5 L924.7,586.1 L924.8,586.1 L926.8,586.7 L928.8,587.3 L930.8,587.9 L932.8,588.5 L934.8,589.1 L936.8,589.7 L938.8,590.2 L940.8,590.8 L942.8,591.4 L944.8,591.9 L946.8,592.5 L948.8,593.0 L950.8,593.5 L950.9,593.5 L952.8,594.0 L954.8,594.5 L956.8,594.9 L958.8,595.4 L960.8,595.8 L962.8,596.3 L964.8,596.7 L966.8,597.2 L968.8,597.6 L970.8,598.0 L972.8,598.4 L974.9,598.9 L976.9,599.3 L978.9,599.7 L980.9,600.1 L982.9,600.5 L984.9,600.9 L986.9,601.3 L988.9,601.8 L990.9,602.2 L992.9,602.6 L994.9,603.1 L996.9,603.5 L998.9,603.9 L1000.0,604.2 L1000.9,604.4 L1002.9,604.9 L1004.9,605.3 L1006.9,605.8 L1008.9,606.3 L1010.9,606.7 L1012.9,607.2 L1014.9,607.7 L1016.9,608.1 L1018.9,608.6 L1020.9,609.1 L1022.9,609.6 L1024.9,610.1 L1026.9,610.6 L1028.9,611.0 L1030.9,611.5 L1032.9,612.0 L1034.9,612.5 L1036.9,613.0 L1038.9,613.5 L1040.9,614.0 L1042.9,614.4 L1043.6,614.6 L1044.9,614.9 L1046.9,615.4 L1048.9,615.9 L1050.9,616.4 L1052.9,616.9 L1054.9,617.4 L1056.9,617.9 L1059.0,618.4 L1061.0,618.9 L1063.0,619.4 L1065.0,619.9 L1067.0,620.4 L1069.0,620.9 L1071.0,621.4 L1073.0,621.9 L1075.0,622.4 L1077.0,622.9 L1079.0,623.4 L1081.0,623.9 L1083.0,624.4 L1085.0,624.8 L1087.0,625.3 L1087.3,625.4 L1089.0,625.8 L1091.0,626.3 L1093.0,626.7 L1095.0,627.2 L1097.0,627.7 L1099.0,628.1 L1101.0,628.6 L1103.0,629.0 L1105.0,629.5 L1107.0,629.9 L1109.0,630.4 L1111.0,630.8 L1113.0,631.3 L1115.0,631.7 L1117.0,632.2 L1119.0,632.6 L1121.0,633.1 L1123.0,633.6 L1125.0,634.0 L1127.0,634.5 L1129.0,635.0 L1130.9,635.4 L1131.0,635.4 L1133.0,635.9 L1135.0,636.4 L1137.0,636.9 L1139.0,637.4 L1141.0,637.9 L1143.1,638.4 L1145.1,638.9 L1147.1,639.3 L1149.1,639.8 L1151.1,640.3 L1153.1,640.8 L1155.1,641.3 L1157.1,641.8 L1159.1,642.3 L1161.1,642.8 L1163.1,643.3 L1165.1,643.8 L1167.1,644.3 L1169.1,644.8 L1170.0,645.0 L1171.1,645.3 L1173.1,645.7 L1175.1,646.2 L1177.1,646.7 L1179.1,647.2 L1181.1,647.7 L1183.1,648.1 L1185.1,648.6 L1187.1,649.1 L1189.1,649.6 L1191.1,650.0 L1193.1,650.5 L1195.1,651.0 L1197.1,651.4 L1199.1,651.9 L1201.1,652.4 L1203.1,652.8 L1205.1,653.3 L1207.1,653.7 L1209.1,654.1 L1211.1,654.6 L1213.1,655.0 L1213.6,655.1 L1215.1,655.4 L1217.1,655.8 L1219.1,656.2 L1221.1,656.6 L1223.1,657.0 L1225.2,657.4 L1227.2,657.8 L1229.2,658.1 L1231.2,658.5 L1233.2,658.9 L1235.2,659.2 L1237.2,659.6 L1239.2,660.0 L1241.2,660.4 L1243.2,660.7 L1245.2,661.1 L1247.2,661.5 L1249.2,661.9 L1251.2,662.3 L1253.2,662.7 L1255.2,663.1 L1257.2,663.6 L1257.3,663.6 L1259.2,664.0 L1261.2,664.5 L1263.2,664.9 L1265.2,665.4 L1267.2,665.8 L1269.2,666.3 L1271.2,666.8 L1273.2,667.3 L1275.2,667.8 L1277.2,668.3 L1279.2,668.9 L1281.2,669.5 L1283.2,670.1 L1283.5,670.2 L1285.2,670.8 L1287.2,671.5 L1289.2,672.3 L1291.2,673.2 L1293.2,674.1 L1295.2,675.0 L1297.2,675.9 L1299.2,676.9 L1300.9,677.6 L1301.2,677.8 L1303.2,678.6 L1305.2,679.5 L1307.2,680.3 L1309.3,681.2 L1311.3,682.1 L1313.3,683.0 L1315.3,684.0 L1317.3,685.1 L1318.4,685.7 L1319.3,686.2 L1321.3,687.5 L1323.3,689.0 L1325.3,690.5 L1327.3,692.0 L1329.3,693.6 L1331.3,695.0 L1331.5,695.2 L1333.3,696.4 L1335.3,697.6 L1337.3,698.8 L1339.3,700.3 L1340.2,701.1 L1341.3,702.2 L1343.3,704.5 L1345.3,707.2 L1347.3,710.2 L1349.3,713.5" stroke="#ff0000"/>
<path d="M516.3,490.3 L518.3,490.3 L520.3,490.3 L522.3,490.2 L524.3,490.2 L526.3,490.2 L528.3,490.2 L530.3,490.2 L532.3,490.2 L534.3,490.2 L536.3,490.1 L538.3,490.1 L540.3,490.1 L542.3,490.1 L544.3,490.1 L546.3,490.1 L548.3,490.1 L550.3,490.1 L552.3,490.1 L554.3,490.1 L556.3,490.0 L558.4,490.0 L560.4,490.0 L562.4,490.0 L564.4,490.0 L566.4,490.0 L568.4,490.0 L570.4,490.0 L572.4,490.0 L574.4,490.0 L576.4,490.0 L578.4,490.0 L580.4,490.0 L582.4,490.0 L584.4,490.0 L586.4,490.0 L587.0,490.0 L588.4,490.0 L590.4,490.0 L592.4,490.0 L594.4,490.0 L596.4,490.0 L598.4,490.0 L600.4,490.0 L602.4,490.0 L604.4,490.0 L606.4,490.0 L608.4,490.0 L610.4,490.0 L612.4,490.1 L614.4,490.1 L616.4,490.1 L618.4,490.1 L620.4,490.1 L622.4,490.1 L624.4,490.1 L626.4,490.1 L628.4,490.2 L630.4,490.2 L632.4,490.2 L634.4,490.2 L636.4,490.2 L638.4,490.2 L640.4,490.3 L642.5,490.3 L644.5,490.3 L645.5,490.3 L646.5,490.3 L648.5,490.3 L650.5,490.4 L652.5,490.4 L654.5,490.5 L656.5,490.6 L658.5,490.7 L660.5,490.8 L662.5,490.9 L664.5,491.0 L666.5,491.1 L668.5,491.2 L670.5,491.3 L672.5,491.4 L674.5,491.6 L675.0,491.6 L676.5,491.7 L678.5,491.9 L680.5,492.0 L682.5,492.2 L684.5,492.4 L686.5,492.7 L688.5,492.9 L690.5,493.1 L692.5,493.4 L694.5,493.7 L696.5,494.0 L698.5,494.2 L700.5,494.5 L702.5,494.8 L703.7,495.0 L704.5,495.1 L706.5,495.4 L708.5,495.8 L710.5,496.1 L712.5,496.5 L714.5,496.9 L716.5,497.3 L718.5,497.7 L720.5,498.1 L722.5,498.6 L723.6,498.8 L724.5,499.0 L726.6,499.5 L728.6,500.1 L730.6,500.6 L732.6,501.2 L734.6,501.8 L736.6,502.5 L738.6,503.1 L740.6,503.8 L742.6,504.4 L744.6,505.1 L746.6,505.8 L747.3,506.0 L748.6,506.4 L750.6,507.1 L752.6,507.7 L754.6,508.4 L756.6,509.1 L758.6,509.8 L760.6,510.5 L762.6,511.2 L764.6,512.0 L766.6,512.7 L767.3,513.0 L768.6,513.5 L770.6,514.3 L772.6,515.1 L774.6,515.9 L776.6,516.8 L778.6,517.6 L780.6,518.5 L782.6,519.3 L784.6,520.2 L786.6,521.1 L788.6,522.0 L790.6,522.9 L792.6,523.8 L794.6,524.7 L796.6,525.7 L798.6,526.6 L800.6,527.6 L802.6,528.5 L804.6,529.5 L806.6,530.4 L808.7,531.4 L810.7,532.4 L810.9,532.5 L812.7,533.4 L814.7,534.4 L816.7,535.4 L818.7,536.4 L820.7,537.4 L822.7,538.5 L824.7,539.6 L826.7,540.6 L828.7,541.7 L830.7,542.8 L832.7,543.9 L834.7,544.9 L836.7,546.0 L837.6,546.5 L838.7,547.1 L840.7,548.2 L842.7,549.2 L844.7,550.3 L846.7,551.4 L848.7,552.5 L850.7,553.6 L852.7,554.7 L854.7,555.8 L856.7,556.9 L858.7,558.0 L860.7,559.1 L862.7,560.2 L863.6,560.7 L864.7,561.3 L866.7,562.5 L868.7,563.6 L870.7,564.7 L872.7,565.8 L874.7,567.0 L876.7,568.1 L878.7,569.2 L880.7,570.4 L882.7,571.5 L884.7,572.7 L886.7,573.8 L888.7,575.0 L890.7,576.2 L892.8,577.3 L894.8,578.5 L896.8,579.7 L898.8,580.9 L900.8,582.1 L902.8,583.3 L904.8,584.5 L906.8,585.7 L907.3,586.0 L908.8,586.9 L910.8,588.1 L912.8,589.4 L914.8,590.6 L916.8,591.9 L918.8,593.2 L920.8,594.5 L922.8,595.8 L924.8,597.1 L926.8,598.4 L928.8,599.7 L930.8,601.0 L932.8,602.3 L934.8,603.6 L936.8,604.9 L938.8,606.2 L940.8,607.5 L942.8,608.8 L944.8,610.1 L946.8,611.3 L948.8,612.5 L950.8,613.8 L950.9,613.8 L952.8,615.0 L954.8,616.2 L956.8,617.3 L958.8,618.5 L960.8,619.7 L962.8,620.9 L964.8,622.0 L966.8,623.2 L968.8,624.3 L970.8,625.5 L972.8,626.6 L974.9,627.7 L976.9,628.9 L978.9,630.0 L980.9,631.1 L982.9,632.3 L984.9,633.4 L986.9,634.5 L988.9,635.6 L990.9,636.7 L992.9,637.8 L994.9,638.9 L996.9,640.1 L998.9,641.2 L1000.0,641.8 L1000.9,642.3 L1002.9,643.4 L1004.9,644.5 L1006.9,645.6 L1008.9,646.7 L1010.9,647.8 L1012.9,649.0 L1014.9,650.1 L1016.9,651.2 L1018.9,652.3 L1020.9,653.4 L1022.9,654.5 L1024.9,655.5 L1026.9,656.6 L1028.9,657.7 L1030.9,658.8 L1032.9,659.9 L1034.9,660.9 L1036.9,662.0 L1038.9,663.1 L1040.9,664.1 L1042.9,665.2 L1043.6,665.5 L1044.9,666.2 L1046.9,667.2 L1048.9,668.2 L1050.9,669.3 L1052.9,670.3 L1054.9,671.3 L1056.9,672.3 L1059.0,673.2 L1061.0,674.2 L1063.0,675.2 L1065.0,676.2 L1067.0,677.2 L1069.0,678.2 L1071.0,679.1 L1073.0,680.1 L1075.0,681.1 L1077.0,682.1 L1079.0,683.1 L1081.0,684.1 L1083.0,685.1 L1085.0,686.1 L1087.0,687.1 L1087.3,687.3 L1089.0,688.2 L1091.0,689.2 L1093.0,690.3 L1095.0,691.3 L1097.0,692.4 L1099.0,693.4 L1101.0,694.5 L1103.0,695.6 L1105.0,696.6 L1107.0,697.7 L1109.0,698.8 L1111.0,699.8 L1113.0,700.9 L1115.0,701.9 L1117.0,703.0 L1119.0,704.0 L1120.0,704.5 L1121.0,705.0 L1123.0,706.0 L1125.0,707.1 L1127.0,708.1 L1129.0,709.1 L1131.0,710.1 L1133.0,711.1 L1135.0,712.1 L1137.0,713.1 L1139.0,714.1 L1141.0,715.1 L1143.1,716.1 L1145.1,717.1 L1147.1,718.0 L1149.1,719.0 L1150.1,719.5 L1151.1,720.0 L1153.1,720.9 L1155.1,721.9 L1157.1,722.8 L1159.1,723.7 L1161.1,724.7 L1163.1,725.6 L1165.1,726.5 L1167.1,727.4 L1169.1,728.4 L1170.0,728.8 L1171.1,729.3 L1173.1,730.2 L1175.1,731.2 L1177.1,732.1 L1179.1,733.1 L1181.1,734.0 L1183.1,735.0 L1185.1,735.9 L1187.1,736.9 L1189.1,737.8 L1191.1,738.8 L1193.1,739.7 L1195.1,740.7 L1197.1,741.6 L1199.1,742.6 L1201.1,743.5 L1203.1,744.4 L1205.1,745.3 L1207.1,746.3 L1209.1,747.2 L1211.1,748.1 L1213.1,749.0 L1213.6,749.2 L1215.1,749.9 L1217.1,750.8 L1219.1,751.6 L1221.1,752.5 L1223.1,753.4 L1225.2,754.2 L1227.2,755.1 L1229.2,755.9 L1231.2,756.8 L1233.2,757.6 L1235.2,758.5 L1237.2,759.4 L1239.2,760.2 L1239.8,760.5 L1241.2,761.1 L1243.2,762.0 L1245.2,762.8 L1247.2,763.7 L1249.2,764.6 L1251.2,765.4 L1253.2,766.3 L1255.2,767.2 L1257.2,768.0 L1259.2,768.9 L1261.2,769.8 L1263.2,770.7 L1265.2,771.5 L1267.2,772.4 L1269.2,773.3 L1271.2,774.1 L1273.2,775.0 L1275.2,775.9 L1277.2,776.8 L1279.2,777.7 L1281.2,778.6 L1283.2,779.4 L1285.2,780.3 L1287.2,781.2 L1289.2,782.1 L1291.2,783.0 L1293.2,783.9 L1295.2,784.8 L1297.2,785.7 L1299.2,786.7 L1300.0,787.0 L1301.2,787.6 L1303.2,788.5 L1305.2,789.4 L1307.2,790.3 L1309.3,791.3 L1311.3,792.2 L1313.3,793.1 L1315.3,794.1 L1317.3,795.0 L1319.3,796.0 L1321.3,796.9 L1323.3,797.9 L1325.3,798.8 L1327.3,799.8 L1329.3,800.8 L1331.3,801.7 L1333.3,802.7 L1335.3,803.6 L1337.3,804.6 L1339.3,805.6 L1341.3,806.6 L1343.3,807.5 L1345.3,808.5 L1347.3,809.5 L1349.3,810.5" stroke="#0000ff"/>
<path d="M516.3,494.3 L518.3,494.3 L520.3,494.3 L522.3,494.3 L524.3,494.3 L526.3,494.3 L528.3,494.3 L530.3,494.3 L532.3,494.3 L534.3,494.4 L536.3,494.4 L538.3,494.4 L540.3,494.4 L542.3,494.4 L544.3,494.4 L546.3,494.4 L548.3,494.5 L550.3,494.5 L552.3,494.5 L553.6,494.5 L554.3,494.5 L556.3,494.6 L558.4,494.6 L560.4,494.7 L562.4,494.8 L564.4,494.9 L566.4,495.1 L568.4,495.2 L570.4,495.4 L572.4,495.6 L574.4,495.8 L576.4,496.0 L578.4,496.2 L580.4,496.4 L582.4,496.6 L584.4,496.9 L586.4,497.1 L588.4,497.3 L590.4,497.5 L592.4,497.7 L594.4,497.9 L596.4,498.1 L597.3,498.2 L598.4,498.3 L600.4,498.5 L602.4,498.7 L604.4,498.9 L606.4,499.1 L608.4,499.3 L610.4,499.4 L612.4,499.6 L614.4,499.8 L616.4,500.0 L618.4,500.2 L620.4,500.4 L622.4,500.7 L624.4,500.9 L626.4,501.1 L628.4,501.3 L630.4,501.5 L632.4,501.7 L634.4,501.9 L636.4,502.2 L638.4,502.4 L640.4,502.6 L642.5,502.8 L644.5,503.1 L645.5,503.2 L646.5,503.3 L648.5,503.6 L650.5,503.8 L652.5,504.1 L654.5,504.3 L656.5,504.6 L658.5,504.8 L660.5,505.1 L662.5,505.4 L664.5,505.7 L666.5,505.9 L668.5,506.2 L670.5,506.5 L672.5,506.8 L674.5,507.1 L676.5,507.4 L678.5,507.7 L680.0,507.9 L680.5,508.0 L682.5,508.3 L684.5,508.6 L686.5,508.9 L688.5,509.2 L690.5,509.5 L692.5,509.8 L694.5,510.1 L696.5,510.4 L698.5,510.7 L700.5,511.0 L702.5,511.3 L704.5,511.7 L706.5,512.0 L708.5,512.3 L710.5,512.7 L712.5,513.0 L714.5,513.3 L716.5,513.7 L718.5,514.0 L720.5,514.4 L722.5,514.7 L723.6,514.9 L724.5,515.1 L726.6,515.4 L728.6,515.8 L730.6,516.1 L732.6,516.4 L734.6,516.8 L736.6,517.1 L738.6,517.5 L740.6,517.9 L742.6,518.4 L744.6,518.8 L746.6,519.3 L747.3,519.5 L748.6,519.9 L750.6,520.4 L752.6,521.1 L754.6,521.8 L756.6,522.6 L758.6,523.4 L760.6,524.2 L762.6,525.1 L764.6,526.1 L766.6,527.0 L768.6,528.0 L770.6,529.1 L772.6,530.2 L774.6,531.3 L775.0,531.5 L776.6,532.4 L778.6,533.7 L780.6,535.1 L782.6,536.5 L784.6,538.0 L786.6,539.6 L788.6,541.3 L790.6,543.0 L792.6,544.7 L794.6,546.5 L796.6,548.3 L798.6,550.2 L800.6,552.0 L802.2,553.5 L802.6,553.9 L804.6,555.9 L806.6,557.9 L808.7,560.0 L810.7,562.2 L812.7,564.4 L814.7,566.6 L816.7,568.9 L818.7,571.1 L819.7,572.3 L820.7,573.4 L822.7,575.6 L824.7,577.9 L826.7,580.1 L828.7,582.4 L830.7,584.7 L832.7,587.1 L834.7,589.4 L836.7,591.8 L837.1,592.3 L838.7,594.2 L840.7,596.7 L842.7,599.2 L844.7,601.7 L846.7,604.2 L848.7,606.7 L850.2,608.5 L850.7,609.1 L852.7,611.4 L854.7,613.8 L856.7,616.1 L858.7,618.3 L860.7,620.6 L862.7,622.9 L864.7,625.1 L866.7,627.3 L868.7,629.5 L870.7,631.7 L872.7,633.9 L874.7,636.2 L876.4,638.0 L876.7,638.4 L878.7,640.6 L880.7,642.8 L882.7,645.0 L884.7,647.2 L886.7,649.4 L888.1,650.8 L888.7,651.5 L890.7,653.6 L892.8,655.7 L894.8,657.7 L896.8,659.8 L898.8,661.8 L900.0,663.1 L900.8,663.9 L902.8,666.0 L904.8,668.1 L906.8,670.1 L908.8,672.2 L910.8,674.3 L912.8,676.5 L914.8,678.6 L916.8,680.7 L918.8,682.8 L920.8,684.9 L922.8,687.0 L924.8,689.1 L926.8,691.2 L928.8,693.3 L930.8,695.4 L932.8,697.4 L934.8,699.5 L936.8,701.5 L938.8,703.6 L940.8,705.6 L942.8,707.6 L944.8,709.6 L946.8,711.5 L948.0,712.7 L948.8,713.5 L950.8,715.4 L952.8,717.4 L954.8,719.3 L956.8,721.2 L958.8,723.1 L960.8,724.9 L962.8,726.8 L964.8,728.7 L966.8,730.5 L968.8,732.4 L970.8,734.2 L972.8,736.1 L974.9,737.9 L976.9,739.7 L978.9,741.5 L980.9,743.3 L982.9,745.1 L984.9,746.9 L986.9,748.7 L988.9,750.4 L990.9,752.2 L992.9,754.0 L994.9,755.7 L995.9,756.6 L996.9,757.5 L998.9,759.2 L1000.9,760.9 L1002.9,762.6 L1004.9,764.3 L1006.9,766.0 L1008.9,767.7 L1010.9,769.3 L1012.9,771.0 L1014.9,772.7 L1016.9,774.3 L1018.9,776.0 L1020.9,777.6 L1022.9,779.3 L1024.9,780.9 L1026.9,782.5 L1028.9,784.2 L1030.9,785.8 L1032.9,787.5 L1034.9,789.1 L1036.9,790.8 L1038.9,792.4 L1040.9,794.1 L1042.9,795.8 L1043.9,796.6 L1044.9,797.5 L1046.9,799.2 L1048.9,800.9 L1050.9,802.6 L1052.9,804.3 L1054.9,806.0 L1056.9,807.7 L1059.0,809.5 L1061.0,811.2 L1063.0,812.9 L1065.0,814.6 L1067.0,816.3 L1069.0,818.0 L1071.0,819.7 L1073.0,821.4 L1075.0,823.0 L1076.4,824.2 L1077.0,824.7 L1079.0,826.3 L1081.0,828.0 L1083.0,829.6 L1085.0,831.3 L1087.0,832.9 L1089.0,834.5 L1091.0,836.2 L1093.0,837.8 L1095.0,839.4 L1097.0,841.0 L1099.0,842.6 L1101.0,844.2 L1103.0,845.8 L1105.0,847.3 L1107.0,848.9 L1109.0,850.4 L1111.0,851.9 L1113.0,853.4 L1115.0,854.9 L1115.2,855.0 L1117.0,856.3 L1119.0,857.7 L1121.0,859.1 L1123.0,860.4 L1125.0,861.8 L1127.0,863.1 L1129.0,864.4 L1131.0,865.7 L1133.0,867.1 L1135.0,868.4 L1135.0,868.4 L1137.0,869.8 L1139.0,871.2 L1141.0,872.6 L1143.1,873.9 L1145.1,875.3 L1147.1,876.7 L1149.1,878.1 L1151.1,879.5 L1153.1,880.9 L1154.0,881.5 L1155.1,882.2 L1157.1,883.6 L1159.1,885.0 L1161.1,886.4 L1163.1,887.8 L1165.1,889.2 L1167.1,890.5 L1169.1,891.9 L1170.0,892.5 L1171.1,893.2 L1173.1,894.5 L1175.1,895.8 L1177.1,897.1 L1179.1,898.4 L1181.1,899.7 L1183.1,901.0 L1185.1,902.3 L1187.1,903.5 L1189.1,904.8 L1191.1,906.1 L1193.1,907.3 L1195.1,908.5 L1197.1,909.8 L1199.1,911.0 L1200.0,911.5 L1201.1,912.2 L1203.1,913.4 L1205.1,914.6 L1207.1,915.8 L1209.1,916.9 L1211.1,918.1 L1213.1,919.3 L1215.1,920.5 L1217.1,921.6 L1219.1,922.8 L1221.1,923.9 L1223.1,925.0 L1225.2,926.1 L1227.2,927.2 L1229.2,928.3 L1230.0,928.8 L1231.2,929.4 L1233.2,930.5 L1235.2,931.6 L1237.2,932.6 L1239.2,933.7 L1241.2,934.7 L1243.2,935.8 L1245.2,936.8 L1247.2,937.8 L1249.2,938.8 L1251.2,939.8 L1253.2,940.9 L1255.2,941.9 L1257.2,942.9 L1259.2,943.9 L1261.2,944.9 L1263.2,945.9 L1265.2,946.9 L1267.2,947.9 L1267.9,948.2 L1269.2,948.8 L1271.2,949.8 L1273.2,950.8 L1275.2,951.8 L1277.2,952.7 L1279.2,953.7 L1280.6,954.4 L1281.2,954.7 L1283.2,955.7 L1285.2,956.7 L1287.2,957.7 L1289.2,958.8 L1291.2,959.8 L1293.2,960.8 L1295.2,961.8 L1297.2,962.9 L1299.2,963.9 L1301.2,964.9 L1302.5,965.5 L1303.2,965.9 L1305.2,966.9 L1307.2,967.8 L1309.3,968.8 L1311.3,969.8 L1313.3,970.8 L1315.3,971.8 L1317.3,972.8 L1319.3,973.7 L1321.3,974.7 L1323.3,975.7 L1325.3,976.6 L1327.3,977.6 L1329.3,978.6 L1331.3,979.5 L1333.3,980.5 L1335.3,981.4 L1337.3,982.4 L1339.3,983.3 L1341.3,984.3 L1343.3,985.2 L1345.3,986.1 L1347.3,987.1 L1349.3,988.0" stroke="#008080"/>
<path d="M516.3,494.3 L518.3,494.3 L520.3,494.3 L522.3,494.3 L524.3,494.3 L526.3,494.3 L528.3,494.3 L530.3,494.4 L532.3,494.4 L534.3,494.4 L536.3,494.4 L538.3,494.4 L540.3,494.5 L542.3,494.5 L544.3,494.5 L546.3,494.5 L548.3,494.6 L550.3,494.6 L552.3,494.6 L554.3,494.7 L556.3,494.7 L558.4,494.8 L560.4,494.8 L562.4,494.8 L564.4,494.9 L566.4,494.9 L568.4,495.0 L570.4,495.0 L572.4,495.1 L574.4,495.1 L576.4,495.2 L578.4,495.2 L580.4,495.3 L582.4,495.3 L584.4,495.4 L586.4,495.5 L588.4,495.5 L590.4,495.6 L592.4,495.6 L594.4,495.7 L596.4,495.8 L597.3,495.8 L598.4,495.8 L600.4,495.9 L602.4,496.0 L604.4,496.1 L606.4,496.2 L608.4,496.4 L610.4,496.5 L612.4,496.7 L614.4,496.8 L616.4,497.0 L618.4,497.2 L620.4,497.4 L622.4,497.6 L624.4,497.8 L626.4,498.0 L628.4,498.2 L630.4,498.4 L632.4,498.6 L634.4,498.8 L636.4,499.0 L638.4,499.2 L640.4,499.3 L642.5,499.5 L644.5,499.7 L645.5,499.8 L646.5,499.9 L648.5,500.1 L650.5,500.2 L652.5,500.4 L654.5,500.5 L656.5,500.7 L658.5,500.9 L660.5,501.0 L662.5,501.2 L664.5,501.3 L666.5,501.5 L668.5,501.7 L670.5,501.9 L672.5,502.1 L674.5,502.3 L676.5,502.5 L678.5,502.7 L680.0,502.9 L680.5,503.0 L682.5,503.2 L684.5,503.5 L686.5,503.8 L688.5,504.1 L690.5,504.4 L692.5,504.7 L694.5,505.1 L696.5,505.4 L698.5,505.8 L700.5,506.2 L702.5,506.6 L704.5,507.0 L706.5,507.4 L708.5,507.9 L710.5,508.3 L712.5,508.8 L714.5,509.3 L716.5,509.8 L718.5,510.3 L720.5,510.8 L722.5,511.3 L723.6,511.6 L724.5,511.9 L726.6,512.5 L728.6,513.1 L730.6,513.8 L732.6,514.5 L734.6,515.2 L736.6,516.0 L738.6,516.8 L740.6,517.6 L742.6,518.5 L744.6,519.4 L746.6,520.3 L748.6,521.2 L750.6,522.1 L752.6,523.1 L754.6,524.0 L756.6,525.0 L758.6,526.0 L760.6,526.9 L762.6,527.9 L764.6,528.9 L766.6,529.9 L767.3,530.2 L768.6,530.8 L770.6,531.8 L772.6,532.8 L774.6,533.9 L776.6,534.9 L778.6,536.0 L780.6,537.0 L782.6,538.1 L784.6,539.2 L786.6,540.3 L788.6,541.5 L790.6,542.6 L792.6,543.8 L794.6,544.9 L796.6,546.1 L798.6,547.2 L800.6,548.4 L802.6,549.6 L804.6,550.7 L806.6,551.9 L808.7,553.1 L810.7,554.3 L810.9,554.4 L812.7,555.4 L814.7,556.6 L816.7,557.9 L818.7,559.1 L820.7,560.4 L822.7,561.7 L824.7,563.0 L826.7,564.3 L828.7,565.7 L830.7,567.0 L832.7,568.3 L834.7,569.7 L836.7,571.0 L838.7,572.3 L840.7,573.6 L842.7,574.9 L844.7,576.2 L846.7,577.5 L848.7,578.7 L850.7,579.9 L852.7,581.1 L854.7,582.3 L856.7,583.4 L858.7,584.5 L860.7,585.6 L862.7,586.6 L863.6,587.0 L864.7,587.5 L866.7,588.5 L868.7,589.4 L870.7,590.4 L872.7,591.3 L874.7,592.2 L876.7,593.1 L878.7,594.0 L880.7,594.9 L882.7,595.8 L884.7,596.6 L886.7,597.4 L888.7,598.2 L890.7,599.0 L892.8,599.7 L894.8,600.5 L896.8,601.2 L898.8,601.9 L900.8,602.5 L902.8,603.1 L904.8,603.7 L906.8,604.3 L907.3,604.4 L908.8,604.8 L910.8,605.3 L912.8,605.8 L914.8,606.3 L916.8,606.8 L918.8,607.2 L920.8,607.7 L922.8,608.1 L924.8,608.6 L926.8,609.0 L928.8,609.4 L930.8,609.8 L932.8,610.1 L934.8,610.5 L936.8,610.9 L938.8,611.2 L940.8,611.5 L942.8,611.8 L944.8,612.2 L946.8,612.4 L948.8,612.7 L950.8,613.0 L950.9,613.0 L952.8,613.2 L954.8,613.5 L956.8,613.7 L958.8,614.0 L960.8,614.2 L962.8,614.4 L964.8,614.6 L966.8,614.9 L968.8,615.1 L970.8,615.3 L972.8,615.5 L974.9,615.7 L976.9,615.8 L978.9,616.0 L980.9,616.2 L982.9,616.4 L984.9,616.5 L986.9,616.7 L988.9,616.9 L990.9,617.0 L992.9,617.2 L994.9,617.3 L996.9,617.5 L998.9,617.6 L1000.0,617.7 L1000.9,617.8 L1002.9,617.9 L1004.9,618.0 L1006.9,618.2 L1008.9,618.3 L1010.9,618.4 L1012.9,618.5 L1014.9,618.6 L1016.9,618.7 L1018.9,618.8 L1020.9,618.9 L1022.9,619.0 L1024.9,619.1 L1026.9,619.2 L1028.9,619.4 L1030.9,619.5 L1032.9,619.6 L1034.9,619.7 L1036.9,619.8 L1038.9,619.9 L1040.9,620.0 L1042.9,620.2 L1043.6,620.2 L1044.9,620.3 L1046.9,620.4 L1048.9,620.5 L1050.9,620.7 L1052.9,620.8 L1054.9,620.9 L1056.9,621.1 L1059.0,621.2 L1061.0,621.3 L1063.0,621.5 L1065.0,621.6 L1067.0,621.8 L1069.0,621.9 L1071.0,622.0 L1073.0,622.2 L1075.0,622.4 L1077.0,622.5 L1079.0,622.7 L1081.0,622.9 L1083.0,623.1 L1085.0,623.3 L1087.0,623.5 L1087.3,623.5 L1089.0,623.7 L1091.0,623.9 L1093.0,624.2 L1095.0,624.4 L1097.0,624.7 L1099.0,625.0 L1101.0,625.3 L1103.0,625.6 L1105.0,625.9 L1107.0,626.3 L1109.0,626.6 L1111.0,627.0 L1113.0,627.3 L1115.0,627.7 L1117.0,628.0 L1119.0,628.4 L1121.0,628.8 L1123.0,629.1 L1125.0,629.5 L1127.0,629.9 L1129.0,630.3 L1130.9,630.6 L1131.0,630.6 L1133.0,631.0 L1135.0,631.4 L1137.0,631.7 L1139.0,632.1 L1141.0,632.5 L1143.1,632.9 L1145.1,633.3 L1147.1,633.7 L1149.1,634.1 L1151.1,634.5 L1153.1,634.9 L1155.1,635.3 L1157.1,635.7 L1159.1,636.2 L1161.1,636.6 L1163.1,637.1 L1165.1,637.5 L1167.1,638.0 L1169.1,638.5 L1170.0,638.7 L1171.1,639.0 L1173.1,639.5 L1175.1,640.0 L1177.1,640.5 L1179.1,641.0 L1181.1,641.6 L1183.1,642.2 L1185.1,642.7 L1187.1,643.3 L1189.1,643.9 L1191.1,644.5 L1193.1,645.1 L1195.1,645.7 L1197.1,646.3 L1199.1,647.0 L1201.1,647.6 L1203.1,648.3 L1205.1,648.9 L1207.1,649.6 L1209.1,650.3 L1211.1,651.0 L1213.1,651.6 L1213.6,651.8 L1215.1,652.3 L1217.1,653.0 L1219.1,653.7 L1221.1,654.5 L1223.1,655.2 L1225.2,655.9 L1227.2,656.7 L1229.2,657.4 L1231.2,658.2 L1233.2,659.0 L1235.2,659.8 L1237.2,660.6 L1239.2,661.4 L1241.2,662.2 L1243.2,663.1 L1245.2,663.9 L1247.2,664.8 L1249.2,665.7 L1251.2,666.6 L1253.2,667.5 L1255.2,668.5 L1257.2,669.4 L1257.3,669.5 L1259.2,670.4 L1261.2,671.5 L1263.2,672.5 L1265.2,673.6 L1267.2,674.7 L1269.2,675.8 L1271.2,677.0 L1273.2,678.2 L1275.2,679.4 L1277.2,680.6 L1279.2,681.8 L1281.2,683.1 L1283.2,684.4 L1285.2,685.7 L1287.2,687.0 L1289.2,688.3 L1291.2,689.7 L1293.2,691.0 L1295.2,692.4 L1297.2,693.8 L1299.2,695.1 L1300.9,696.3 L1301.2,696.5 L1303.2,698.0 L1305.2,699.4 L1307.2,700.9 L1309.3,702.4 L1311.3,704.0 L1313.3,705.6 L1315.3,707.2 L1317.3,708.8 L1319.3,710.4 L1321.3,712.1 L1323.3,713.7 L1325.3,715.4 L1327.1,716.9 L1327.3,717.0 L1329.3,718.7 L1331.3,720.4 L1333.3,722.1 L1335.3,723.9 L1337.3,725.6 L1339.3,727.4 L1341.3,729.2 L1343.3,731.0 L1345.3,732.8 L1347.3,734.7 L1349.3,736.5" stroke="#ff00ff"/>
<path d="M516.3,493.8 L518.3,493.8 L520.3,493.8 L522.3,493.8 L524.3,493.8 L526.3,493.8 L528.3,493.8 L530.3,493.8 L532.3,493.8 L534.3,493.8 L536.3,493.8 L538.3,493.9 L540.3,493.9 L542.3,493.9 L544.3,493.9 L546.3,493.9 L548.3,493.9 L550.3,493.9 L552.3,493.9 L554.3,493.9 L556.3,494.0 L558.4,494.0 L560.4,494.0 L562.4,494.0 L564.4,494.0 L566.4,494.0 L568.4,494.1 L570.4,494.1 L572.4,494.1 L574.4,494.1 L576.4,494.1 L578.4,494.2 L580.4,494.2 L582.4,494.2 L584.4,494.2 L586.4,494.3 L588.4,494.3 L590.4,494.3 L592.4,494.3 L594.4,494.4 L596.4,494.4 L597.3,494.4 L598.4,494.4 L600.4,494.4 L602.4,494.5 L604.4,494.5 L606.4,494.6 L608.4,494.6 L610.4,494.7 L612.4,494.7 L614.4,494.8 L616.4,494.9 L618.4,495.0 L620.4,495.0 L622.4,495.1 L624.4,495.2 L626.4,495.3 L628.4,495.4 L630.4,495.5 L632.4,495.6 L634.4,495.7 L636.4,495.7 L638.4,495.8 L640.4,495.9 L642.5,496.0 L644.5,496.1 L645.5,496.2 L646.5,496.2 L648.5,496.4 L650.5,496.5 L652.5,496.6 L654.5,496.8 L656.5,496.9 L658.5,497.0 L660.5,497.2 L662.5,497.4 L664.5,497.5 L666.5,497.7 L668.5,497.9 L670.5,498.0 L672.5,498.2 L674.5,498.4 L676.5,498.5 L678.5,498.7 L680.0,498.8 L680.5,498.8 L682.5,499.0 L684.5,499.1 L686.5,499.3 L688.5,499.5 L690.0,499.6 L690.5,499.7 L692.5,499.9 L694.5,500.1 L696.5,500.4 L698.5,500.7 L700.5,501.0 L702.5,501.4 L704.5,501.7 L706.5,502.1 L708.5,502.5 L710.5,502.9 L712.5,503.3 L714.5,503.7 L716.5,504.2 L718.5,504.6 L720.5,505.1 L722.5,505.6 L723.6,505.8 L724.5,506.0 L726.6,506.5 L728.6,507.1 L730.6,507.6 L732.6,508.2 L734.6,508.9 L736.6,509.5 L738.6,510.2 L740.6,510.8 L742.6,511.5 L744.6,512.3 L746.6,513.0 L748.6,513.7 L750.6,514.5 L752.6,515.3 L754.6,516.0 L756.6,516.8 L758.6,517.6 L760.6,518.4 L762.6,519.2 L764.6,519.9 L766.6,520.7 L767.3,521.0 L768.6,521.5 L770.6,522.3 L772.6,523.1 L774.6,524.0 L776.6,524.8 L778.6,525.7 L780.6,526.5 L782.6,527.4 L784.6,528.3 L786.6,529.2 L788.6,530.1 L790.6,531.0 L792.6,531.9 L794.6,532.8 L796.6,533.8 L798.6,534.7 L800.6,535.6 L802.6,536.5 L804.6,537.4 L806.6,538.3 L808.7,539.2 L810.7,540.1 L810.9,540.2 L812.7,541.0 L814.7,541.9 L816.7,542.8 L818.7,543.7 L820.7,544.6 L822.7,545.5 L824.7,546.4 L826.7,547.3 L828.7,548.2 L830.7,549.1 L832.7,550.0 L834.7,550.9 L836.7,551.8 L838.7,552.7 L840.7,553.6 L842.7,554.5 L844.7,555.3 L846.7,556.2 L848.7,557.1 L850.7,558.0 L852.7,558.9 L854.7,559.7 L856.7,560.6 L858.7,561.4 L860.7,562.3 L862.7,563.1 L863.6,563.5 L864.7,564.0 L866.7,564.8 L868.7,565.6 L870.7,566.4 L872.7,567.2 L874.7,568.0 L876.7,568.8 L878.7,569.5 L880.7,570.3 L882.7,571.1 L884.7,571.9 L886.7,572.6 L888.7,573.4 L890.7,574.2 L892.8,574.9 L894.8,575.7 L896.8,576.5 L898.8,577.3 L900.8,578.1 L902.8,578.9 L904.8,579.7 L906.8,580.5 L907.3,580.7 L908.8,581.3 L910.8,582.1 L912.8,583.0 L914.8,583.8 L916.8,584.7 L918.8,585.5 L920.8,586.4 L922.8,587.2 L924.8,588.1 L926.8,589.0 L928.8,589.8 L930.8,590.7 L932.8,591.6 L934.8,592.4 L936.8,593.3 L938.8,594.2 L940.8,595.1 L942.8,596.0 L944.8,596.8 L946.8,597.7 L948.8,598.6 L950.8,599.5 L950.9,599.5 L952.8,600.3 L954.8,601.2 L956.8,602.1 L958.8,603.0 L960.8,603.8 L962.8,604.7 L964.8,605.6 L966.8,606.4 L968.8,607.3 L970.8,608.2 L972.8,609.1 L974.9,609.9 L976.9,610.8 L978.9,611.7 L980.9,612.6 L982.9,613.5 L984.9,614.4 L986.9,615.3 L988.9,616.2 L990.9,617.1 L992.9,618.0 L994.9,619.0 L996.9,619.9 L998.9,620.9 L1000.0,621.4 L1000.9,621.8 L1002.9,622.8 L1004.9,623.8 L1006.9,624.7 L1008.9,625.7 L1010.9,626.7 L1012.9,627.7 L1014.9,628.7 L1016.9,629.7 L1018.9,630.7 L1020.9,631.8 L1022.9,632.8 L1024.9,633.8 L1026.9,634.9 L1028.9,635.9 L1030.9,637.0 L1032.9,638.0 L1034.9,639.1 L1036.9,640.2 L1038.9,641.3 L1040.9,642.3 L1042.9,643.4 L1043.6,643.8 L1044.9,644.5 L1046.9,645.6 L1048.9,646.7 L1050.9,647.9 L1052.9,649.0 L1054.9,650.1 L1056.9,651.2 L1059.0,652.4 L1061.0,653.5 L1063.0,654.6 L1065.0,655.8 L1067.0,657.0 L1069.0,658.2 L1071.0,659.3 L1073.0,660.5 L1075.0,661.8 L1077.0,663.0 L1079.0,664.2 L1081.0,665.5 L1083.0,666.7 L1085.0,668.0 L1087.0,669.3 L1087.3,669.5 L1089.0,670.6 L1091.0,671.9 L1093.0,673.3 L1095.0,674.7 L1097.0,676.1 L1099.0,677.5 L1101.0,678.9 L1103.0,680.4 L1105.0,681.8 L1107.0,683.3 L1109.0,684.8 L1111.0,686.3 L1113.0,687.8 L1115.0,689.3 L1117.0,690.8 L1119.0,692.3 L1120.0,693.0 L1121.0,693.8 L1123.0,695.3 L1125.0,696.8 L1127.0,698.3 L1129.0,699.9 L1131.0,701.4 L1133.0,703.0 L1135.0,704.6 L1137.0,706.2 L1139.0,707.7 L1141.0,709.3 L1143.1,710.9 L1145.1,712.5 L1147.1,714.1 L1149.1,715.7 L1151.1,717.3 L1153.1,718.8 L1155.1,720.4 L1157.1,722.0 L1159.1,723.5 L1161.1,725.1 L1163.1,726.6 L1163.6,727.0 L1165.1,728.1 L1167.1,729.6 L1169.1,731.2 L1171.1,732.7 L1173.1,734.2 L1175.1,735.7 L1177.1,737.2 L1179.1,738.7 L1181.1,740.1 L1183.1,741.6 L1185.1,743.1 L1187.1,744.6 L1189.1,746.1 L1191.1,747.6 L1193.1,749.0 L1195.1,750.5 L1197.1,752.0 L1199.1,753.5 L1201.1,754.9 L1203.1,756.4 L1205.1,757.9 L1207.1,759.4 L1207.3,759.5 L1209.1,760.9 L1211.1,762.3 L1213.1,763.8 L1215.1,765.3 L1217.1,766.8 L1219.1,768.2 L1221.1,769.7 L1223.1,771.2 L1225.2,772.7 L1227.2,774.1 L1229.2,775.6 L1231.2,777.1 L1233.2,778.5 L1235.2,780.0 L1237.2,781.5 L1239.2,782.9 L1241.2,784.4 L1243.2,785.9 L1245.2,787.3 L1247.2,788.8 L1249.2,790.2 L1250.9,791.5 L1251.2,791.7 L1253.2,793.2 L1255.2,794.6 L1257.2,796.1 L1259.2,797.5 L1261.2,798.9 L1263.2,800.4 L1265.2,801.8 L1267.2,803.2 L1269.2,804.7 L1271.2,806.1 L1273.2,807.5 L1275.2,809.0 L1277.2,810.4 L1279.2,811.9 L1281.2,813.3 L1283.2,814.8 L1285.2,816.2 L1287.2,817.7 L1289.2,819.1 L1291.1,820.5 L1291.2,820.6 L1293.2,822.1 L1295.2,823.5 L1297.2,825.0 L1299.2,826.5 L1301.2,827.9 L1303.2,829.4 L1305.2,830.9 L1307.2,832.5 L1309.2,834.0 L1309.3,834.0 L1311.3,835.6 L1313.3,837.2 L1315.3,838.8 L1317.3,840.4 L1319.3,842.1 L1321.3,843.7 L1323.3,845.5 L1325.3,847.2 L1327.3,849.0 L1328.6,850.2 L1329.3,850.8 L1331.3,852.7 L1333.3,854.6 L1335.3,856.6 L1337.3,858.6 L1339.3,860.7 L1341.3,862.8 L1343.3,864.9 L1345.3,867.1 L1347.3,869.3 L1349.3,871.6" stroke="#808000"/>
</g>
<g stroke="#000" stroke-width="3" fill="none" shape-rendering="crispEdges">
<rect x="516.0" y="486.5" width="833.5" height="613.0"/>
<line x1="516.0" y1="485.0" x2="516.0" y2="1101.0" stroke-width="4"/>
</g>
<g stroke="#000" stroke-width="3" stroke-linecap="round" fill="none">
<line x1="516.0" y1="1099.5" x2="504.0" y2="1099.5"/>
<line x1="516.0" y1="1056.3" x2="510.0" y2="1056.3"/>
<line x1="516.0" y1="1013.2" x2="504.0" y2="1013.2"/>
<line x1="516.0" y1="970.0" x2="510.0" y2="970.0"/>
<line x1="516.0" y1="926.9" x2="504.0" y2="926.9"/>
<line x1="516.0" y1="883.8" x2="510.0" y2="883.8"/>
<line x1="516.0" y1="840.6" x2="504.0" y2="840.6"/>
<line x1="516.0" y1="797.5" x2="510.0" y2="797.5"/>
<line x1="516.0" y1="754.3" x2="504.0" y2="754.3"/>
<line x1="516.0" y1="711.1" x2="510.0" y2="711.1"/>
<line x1="516.0" y1="668.0" x2="504.0" y2="668.0"/>
<line x1="516.0" y1="624.8" x2="510.0" y2="624.8"/>
<line x1="516.0" y1="581.7" x2="504.0" y2="581.7"/>
<line x1="516.0" y1="538.5" x2="510.0" y2="538.5"/>
<line x1="516.0" y1="495.4" x2="504.0" y2="495.4"/>
<line x1="516.0" y1="1099.5" x2="516.0" y2="1111.5"/>
<line x1="575.5" y1="1099.5" x2="575.5" y2="1105.5"/>
<line x1="635.1" y1="1099.5" x2="635.1" y2="1111.5"/>
<line x1="694.6" y1="1099.5" x2="694.6" y2="1105.5"/>
<line x1="754.1" y1="1099.5" x2="754.1" y2="1111.5"/>
<line x1="813.7" y1="1099.5" x2="813.7" y2="1105.5"/>
<line x1="873.2" y1="1099.5" x2="873.2" y2="1111.5"/>
<line x1="932.7" y1="1099.5" x2="932.7" y2="1105.5"/>
<line x1="992.3" y1="1099.5" x2="992.3" y2="1111.5"/>
<line x1="1051.8" y1="1099.5" x2="1051.8" y2="1105.5"/>
<line x1="1111.3" y1="1099.5" x2="1111.3" y2="1111.5"/>
<line x1="1170.9" y1="1099.5" x2="1170.9" y2="1105.5"/>
<line x1="1230.4" y1="1099.5" x2="1230.4" y2="1111.5"/>
<line x1="1290.0" y1="1099.5" x2="1290.0" y2="1105.5"/>
<line x1="1349.5" y1="1099.5" x2="1349.5" y2="1111.5"/>
</g>
<g font-size="34.5" fill="#000">
<text x="496.5" y="1109.9" text-anchor="end">86</text>
<text x="496.5" y="1023.6" text-anchor="end">88</text>
<text x="496.5" y="937.3" text-anchor="end">90</text>
<text x="496.5" y="851.0" text-anchor="end">92</text>
<text x="496.5" y="764.7" text-anchor="end">94</text>
<text x="496.5" y="678.4" text-anchor="end">96</text>
<text x="496.5" y="592.1" text-anchor="end">98</text>
<text x="496.5" y="505.8" text-anchor="end">100</text>
<text x="516.0" y="1146.1" text-anchor="middle">50</text>
<text x="635.1" y="1146.1" text-anchor="middle">100</text>
<text x="754.1" y="1146.1" text-anchor="middle">150</text>
<text x="873.2" y="1146.1" text-anchor="middle">200</text>
<text x="992.3" y="1146.1" text-anchor="middle">250</text>
<text x="1111.3" y="1146.1" text-anchor="middle">300</text>
<text x="1230.4" y="1146.1" text-anchor="middle">350</text>
<text x="1349.5" y="1146.1" text-anchor="middle">400</text>
</g>
<text x="932.9" y="1207.4" text-anchor="middle" font-size="37.5" font-weight="bold">Temperature (°C)</text>
<text transform="translate(390.8,802.2) rotate(-90)" text-anchor="middle" font-size="38.9" font-weight="bold">Weight (%)</text>
<g shape-rendering="crispEdges">
<rect x="1444" y="748" width="511" height="443" fill="#000"/>
<rect x="1425.4" y="729" width="511.2" height="442.2" fill="#fff" stroke="#000" stroke-width="3"/>
</g>
<g font-size="61.3" fill="#000" word-spacing="3">
<line x1="1432.8" y1="766.4" x2="1568.4" y2="766.4" stroke="#000000" stroke-width="7" stroke-linecap="round"/>
<text x="1585.3" y="787.2">PBI-DIW</text>
<line x1="1432.8" y1="840.4" x2="1568.4" y2="840.4" stroke="#ff0000" stroke-width="7" stroke-linecap="round"/>
<text x="1585.3" y="861.2">PBI-PA 0.1M</text>
<line x1="1432.8" y1="914.4" x2="1568.4" y2="914.4" stroke="#0000ff" stroke-width="7" stroke-linecap="round"/>
<text x="1585.3" y="935.2">PBI-PA 1M</text>
<line x1="1432.8" y1="988.4" x2="1568.4" y2="988.4" stroke="#008080" stroke-width="7" stroke-linecap="round"/>
<text x="1585.3" y="1009.2">PBI-PA 14M</text>
<line x1="1432.8" y1="1062.4" x2="1568.4" y2="1062.4" stroke="#ff00ff" stroke-width="7" stroke-linecap="round"/>
<text x="1585.3" y="1083.2">PBI-HPW</text>
<line x1="1432.8" y1="1136.4" x2="1568.4" y2="1136.4" stroke="#808000" stroke-width="7" stroke-linecap="round"/>
<text x="1585.3" y="1157.2">PBI-phytic</text>
</g>
</svg>
</body></html>
